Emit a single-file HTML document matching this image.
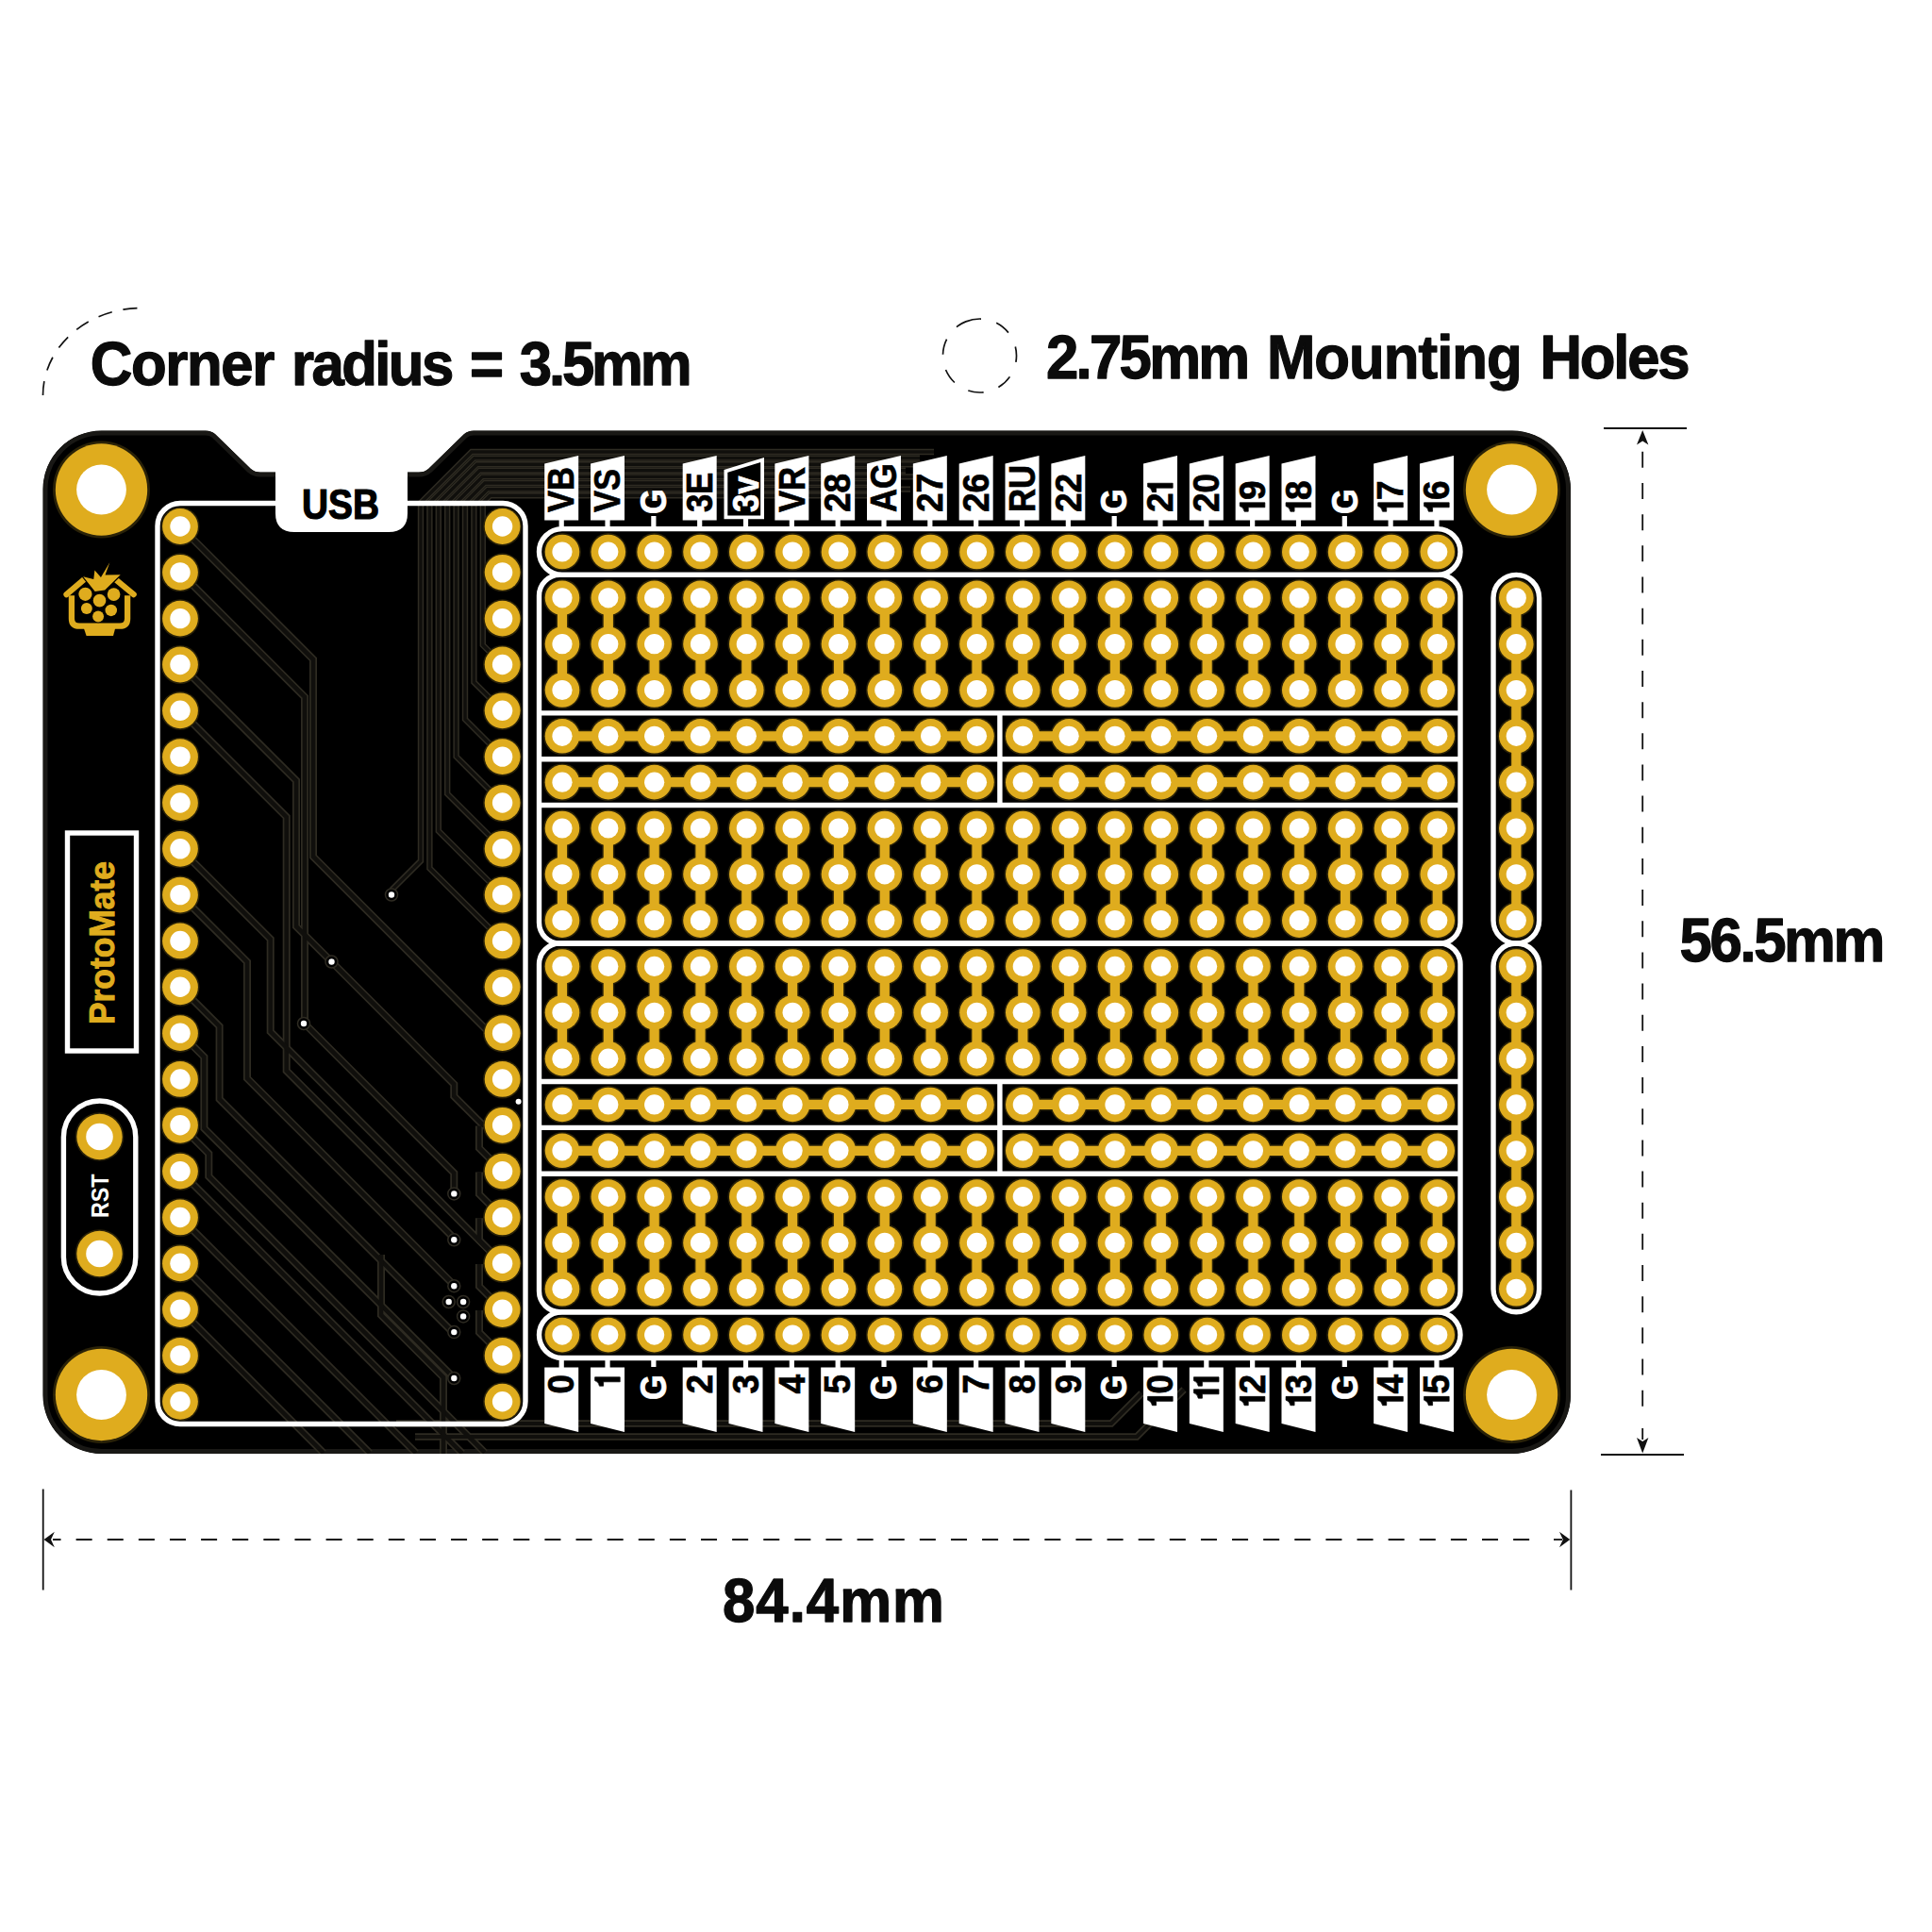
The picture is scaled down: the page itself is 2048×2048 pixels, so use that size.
<!DOCTYPE html><html><head><meta charset="utf-8"><style>html,body{margin:0;padding:0;background:#fff;width:2048px;height:2048px;overflow:hidden}svg{display:block}</style></head><body>
<svg width="2048" height="2048" viewBox="0 0 2048 2048">
<rect width="2048" height="2048" fill="#fff"/>
<g font-family='"Liberation Sans", sans-serif' font-weight="bold" fill="#0b0b0b" stroke="#0b0b0b" stroke-width="1.3" stroke-linejoin="round">
<text transform="translate(95.8,407.5) scale(0.95,1)" font-size="65" textLength="205.8" lengthAdjust="spacing">Corner</text>
<text transform="translate(309.0,407.5) scale(0.95,1)" font-size="65" textLength="181.3" lengthAdjust="spacing">radius</text>
<text transform="translate(497.9,407.5) scale(0.95,1)" font-size="65" textLength="36.9" lengthAdjust="spacing">=</text>
<text transform="translate(550.7,407.5) scale(0.95,1)" font-size="65" textLength="192.7" lengthAdjust="spacing">3.5mm</text>
<text transform="translate(1108.9,400.5) scale(0.95,1)" font-size="65" textLength="227.7" lengthAdjust="spacing">2.75mm</text>
<text transform="translate(1342.9,400.5) scale(0.95,1)" font-size="65" textLength="285.2" lengthAdjust="spacing">Mounting</text>
<text transform="translate(1632.5,400.5) scale(0.95,1)" font-size="65" textLength="167.4" lengthAdjust="spacing">Holes</text>
<text transform="translate(1780.5,1019) scale(0.95,1)" font-size="65" textLength="229.5" lengthAdjust="spacing">56.5mm</text>
<text transform="translate(766,1719) scale(0.95,1)" font-size="65" textLength="247.4" lengthAdjust="spacing">84.4mm</text>
</g>
<path d="M45.5,419 A104.5,92.5 0 0 1 150,326.5" fill="none" stroke="#111" stroke-width="1.7" stroke-dasharray="15 12"/>
<circle cx="1038.5" cy="377" r="39" fill="none" stroke="#111" stroke-width="1.7" stroke-dasharray="16.5 16.8" transform="rotate(-112 1038.5 377)"/>
<g stroke="#111" stroke-width="1.8" fill="none">
<line x1="1700" y1="454" x2="1788" y2="454"/>
<line x1="1697" y1="1542" x2="1785" y2="1542"/>
<line x1="1741.2" y1="470" x2="1741.2" y2="1500" stroke-dasharray="17 16.16" stroke-dashoffset="24.3"/>
<line x1="1741.2" y1="1514" x2="1741.2" y2="1526"/>
<line x1="45.7" y1="1578.5" x2="45.7" y2="1685.5"/>
<line x1="1665.4" y1="1579.5" x2="1665.4" y2="1685.5"/>
<line x1="56" y1="1632" x2="1630" y2="1632" stroke-dasharray="17 16.12" stroke-dashoffset="8.5"/>
<line x1="1647" y1="1632" x2="1656" y2="1632"/>
</g>
<g fill="#111">
<path d="M1741.2,456 L1747.4,471.5 L1741.2,467.5 L1735,471.5 Z"/>
<path d="M1741.2,1540.5 L1747.4,1524 L1741.2,1528 L1735,1524 Z"/>
<path d="M46.5,1632 L57.8,1623.7 L54,1632 L57.8,1640.3 Z"/>
<path d="M1664.3,1632 L1653,1623.7 L1656.8,1632 L1653,1640.3 Z"/>
</g>
<clipPath id="bc"><path d="M107.5,456.5 L218,456.5 Q224,456.5 228,460 L266,497 Q270,500.5 276,500.5 L444,500.5 Q450,500.5 454,497 L492,460 Q496,456.5 502,456.5 L1603,456.5 A62,62 0 0 1 1665,518.5 L1665,1479 A62,62 0 0 1 1603,1541 L107.5,1541 A62,62 0 0 1 45.5,1479 L45.5,518.5 A62,62 0 0 1 107.5,456.5 Z"/></clipPath>
<path d="M107.5,456.5 L218,456.5 Q224,456.5 228,460 L266,497 Q270,500.5 276,500.5 L444,500.5 Q450,500.5 454,497 L492,460 Q496,456.5 502,456.5 L1603,456.5 A62,62 0 0 1 1665,518.5 L1665,1479 A62,62 0 0 1 1603,1541 L107.5,1541 A62,62 0 0 1 45.5,1479 L45.5,518.5 A62,62 0 0 1 107.5,456.5 Z" fill="#000" stroke="#191815" stroke-width="10" clip-path="url(#bc)"/>
<g clip-path="url(#bc)" fill="none" stroke-linejoin="miter">
<path d="M990,479.0 L500.0,479.0 L446.0,533 L446.0,912.6 L415,943.6" stroke="#2e2b22" stroke-width="6.4"/>
<path d="M975,485.6 L502.8,485.6 L455.4,533 L455.4,920.3 L532.6,997.5" stroke="#2e2b22" stroke-width="6.4"/>
<path d="M985,492.2 L505.6,492.2 L464.8,533 L464.8,880.8 L532.6,948.6" stroke="#2e2b22" stroke-width="6.4"/>
<path d="M960,498.8 L508.4,498.8 L474.2,533 L474.2,841.4 L532.6,899.8" stroke="#2e2b22" stroke-width="6.4"/>
<path d="M970,505.4 L511.2,505.4 L483.6,533 L483.6,802.0 L532.6,851.0" stroke="#2e2b22" stroke-width="6.4"/>
<path d="M950,512.0 L514.0,512.0 L493.0,533 L493.0,762.5 L532.6,802.1" stroke="#2e2b22" stroke-width="6.4"/>
<path d="M965,518.6 L516.8,518.6 L502.4,533 L502.4,723.1 L532.6,753.3" stroke="#2e2b22" stroke-width="6.4"/>
<path d="M940,525.2 L519.6,525.2 L511.8,533 L511.8,683.7 L532.6,704.5" stroke="#2e2b22" stroke-width="6.4"/>
<path d="M191,558 L332,699 L332,908 L519,1095 L532.6,1095.1" stroke="#2e2b22" stroke-width="8"/>
<path d="M191,606.8 L323,738.8 L323,1084.5" stroke="#2e2b22" stroke-width="8"/>
<path d="M322.4,1084.5 L481.3,1243.4 L481.3,1265.4" stroke="#2e2b22" stroke-width="8"/>
<path d="M191,704.5 L314,827.5 L314,982 L351.5,1019.5" stroke="#2e2b22" stroke-width="8"/>
<path d="M351.5,1019.5 L481.3,1149.3 L481.3,1162 L512,1192.7 L532.6,1192.7" stroke="#2e2b22" stroke-width="8"/>
<path d="M191,753.3 L303.7,866 L303.7,1135 L481.3,1312.6 L481.3,1314.3" stroke="#2e2b22" stroke-width="8"/>
<path d="M191,899.8 L286.7,995.5 L286.7,1093.6 L532.6,1339.5" stroke="#2e2b22" stroke-width="8"/>
<path d="M191,948.6 L262,1019.6 L262,1143 L481.3,1362.3 L481.3,1363.2" stroke="#2e2b22" stroke-width="8"/>
<path d="M191,1046.3 L232.6,1087.9 L232.6,1165 L481.3,1413.7" stroke="#2e2b22" stroke-width="8"/>
<path d="M191,1095.1 L216.4,1120.5 L216.4,1196 L481.3,1460.9" stroke="#2e2b22" stroke-width="8"/>
<path d="M191,1192.7 L221.3,1223 L221.3,1247 L514,1540" stroke="#2e2b22" stroke-width="8"/>
<path d="M191,1241.6 L490,1540.6" stroke="#2e2b22" stroke-width="8"/>
<path d="M191,1290.4 L441,1540.4" stroke="#2e2b22" stroke-width="8"/>
<path d="M191,1339.3 L392,1540.3" stroke="#2e2b22" stroke-width="8"/>
<path d="M191,1388.1 L343,1540.3" stroke="#2e2b22" stroke-width="8"/>
<path d="M404,1330 L404,1394 L470,1460 L470,1541" stroke="#2e2b22" stroke-width="8"/>
<path d="M532.6,1241.6 L508,1217.0 L508,1193.6" stroke="#2e2b22" stroke-width="8"/>
<path d="M532.6,1290.4 L508,1265.8 L508,1242.4" stroke="#2e2b22" stroke-width="8"/>
<path d="M532.6,1339.3 L508,1314.7 L508,1291.3" stroke="#2e2b22" stroke-width="8"/>
<path d="M532.6,1388.1 L508,1363.5 L508,1340.1" stroke="#2e2b22" stroke-width="8"/>
<path d="M532.6,1436.9 L508,1412.3 L508,1388.9" stroke="#2e2b22" stroke-width="8"/>
<path d="M420,1509 L1178,1509 L1210,1477" stroke="#2e2b22" stroke-width="7.5"/>
<path d="M440,1523 L1205,1523 L1255,1473" stroke="#2e2b22" stroke-width="7.5"/>
<path d="M990,479.0 L500.0,479.0 L446.0,533 L446.0,912.6 L415,943.6" stroke="#100f0c" stroke-width="3.4"/>
<path d="M975,485.6 L502.8,485.6 L455.4,533 L455.4,920.3 L532.6,997.5" stroke="#100f0c" stroke-width="3.4"/>
<path d="M985,492.2 L505.6,492.2 L464.8,533 L464.8,880.8 L532.6,948.6" stroke="#100f0c" stroke-width="3.4"/>
<path d="M960,498.8 L508.4,498.8 L474.2,533 L474.2,841.4 L532.6,899.8" stroke="#100f0c" stroke-width="3.4"/>
<path d="M970,505.4 L511.2,505.4 L483.6,533 L483.6,802.0 L532.6,851.0" stroke="#100f0c" stroke-width="3.4"/>
<path d="M950,512.0 L514.0,512.0 L493.0,533 L493.0,762.5 L532.6,802.1" stroke="#100f0c" stroke-width="3.4"/>
<path d="M965,518.6 L516.8,518.6 L502.4,533 L502.4,723.1 L532.6,753.3" stroke="#100f0c" stroke-width="3.4"/>
<path d="M940,525.2 L519.6,525.2 L511.8,533 L511.8,683.7 L532.6,704.5" stroke="#100f0c" stroke-width="3.4"/>
<path d="M191,558 L332,699 L332,908 L519,1095 L532.6,1095.1" stroke="#100f0c" stroke-width="4.6"/>
<path d="M191,606.8 L323,738.8 L323,1084.5" stroke="#100f0c" stroke-width="4.6"/>
<path d="M322.4,1084.5 L481.3,1243.4 L481.3,1265.4" stroke="#100f0c" stroke-width="4.6"/>
<path d="M191,704.5 L314,827.5 L314,982 L351.5,1019.5" stroke="#100f0c" stroke-width="4.6"/>
<path d="M351.5,1019.5 L481.3,1149.3 L481.3,1162 L512,1192.7 L532.6,1192.7" stroke="#100f0c" stroke-width="4.6"/>
<path d="M191,753.3 L303.7,866 L303.7,1135 L481.3,1312.6 L481.3,1314.3" stroke="#100f0c" stroke-width="4.6"/>
<path d="M191,899.8 L286.7,995.5 L286.7,1093.6 L532.6,1339.5" stroke="#100f0c" stroke-width="4.6"/>
<path d="M191,948.6 L262,1019.6 L262,1143 L481.3,1362.3 L481.3,1363.2" stroke="#100f0c" stroke-width="4.6"/>
<path d="M191,1046.3 L232.6,1087.9 L232.6,1165 L481.3,1413.7" stroke="#100f0c" stroke-width="4.6"/>
<path d="M191,1095.1 L216.4,1120.5 L216.4,1196 L481.3,1460.9" stroke="#100f0c" stroke-width="4.6"/>
<path d="M191,1192.7 L221.3,1223 L221.3,1247 L514,1540" stroke="#100f0c" stroke-width="4.6"/>
<path d="M191,1241.6 L490,1540.6" stroke="#100f0c" stroke-width="4.6"/>
<path d="M191,1290.4 L441,1540.4" stroke="#100f0c" stroke-width="4.6"/>
<path d="M191,1339.3 L392,1540.3" stroke="#100f0c" stroke-width="4.6"/>
<path d="M191,1388.1 L343,1540.3" stroke="#100f0c" stroke-width="4.6"/>
<path d="M404,1330 L404,1394 L470,1460 L470,1541" stroke="#100f0c" stroke-width="4.6"/>
<path d="M532.6,1241.6 L508,1217.0 L508,1193.6" stroke="#100f0c" stroke-width="4.6"/>
<path d="M532.6,1290.4 L508,1265.8 L508,1242.4" stroke="#100f0c" stroke-width="4.6"/>
<path d="M532.6,1339.3 L508,1314.7 L508,1291.3" stroke="#100f0c" stroke-width="4.6"/>
<path d="M532.6,1388.1 L508,1363.5 L508,1340.1" stroke="#100f0c" stroke-width="4.6"/>
<path d="M532.6,1436.9 L508,1412.3 L508,1388.9" stroke="#100f0c" stroke-width="4.6"/>
<path d="M420,1509 L1178,1509 L1210,1477" stroke="#100f0c" stroke-width="4"/>
<path d="M440,1523 L1205,1523 L1255,1473" stroke="#100f0c" stroke-width="4"/>
</g>
<circle cx="549.6" cy="1167.8" r="3" fill="#fff"/>
<circle cx="415" cy="948.5" r="6.5" fill="#000" stroke="#2e2b22" stroke-width="1.5"/><circle cx="415" cy="948.5" r="3.2" fill="#fff"/>
<circle cx="351.5" cy="1019.5" r="6.5" fill="#000" stroke="#2e2b22" stroke-width="1.5"/><circle cx="351.5" cy="1019.5" r="3.2" fill="#fff"/>
<circle cx="322" cy="1085" r="6.5" fill="#000" stroke="#2e2b22" stroke-width="1.5"/><circle cx="322" cy="1085" r="3.2" fill="#fff"/>
<circle cx="481.3" cy="1265.4" r="6.5" fill="#000" stroke="#2e2b22" stroke-width="1.5"/><circle cx="481.3" cy="1265.4" r="3.2" fill="#fff"/>
<circle cx="481.3" cy="1314.3" r="6.5" fill="#000" stroke="#2e2b22" stroke-width="1.5"/><circle cx="481.3" cy="1314.3" r="3.2" fill="#fff"/>
<circle cx="481.3" cy="1363.2" r="6.5" fill="#000" stroke="#2e2b22" stroke-width="1.5"/><circle cx="481.3" cy="1363.2" r="3.2" fill="#fff"/>
<circle cx="475.7" cy="1380" r="6.5" fill="#000" stroke="#2e2b22" stroke-width="1.5"/><circle cx="475.7" cy="1380" r="3.2" fill="#fff"/>
<circle cx="491.1" cy="1380" r="6.5" fill="#000" stroke="#2e2b22" stroke-width="1.5"/><circle cx="491.1" cy="1380" r="3.2" fill="#fff"/>
<circle cx="491.1" cy="1395.4" r="6.5" fill="#000" stroke="#2e2b22" stroke-width="1.5"/><circle cx="491.1" cy="1395.4" r="3.2" fill="#fff"/>
<circle cx="481.3" cy="1412.1" r="6.5" fill="#000" stroke="#2e2b22" stroke-width="1.5"/><circle cx="481.3" cy="1412.1" r="3.2" fill="#fff"/>
<circle cx="481.3" cy="1461" r="6.5" fill="#000" stroke="#2e2b22" stroke-width="1.5"/><circle cx="481.3" cy="1461" r="3.2" fill="#fff"/>
<g fill="none" stroke="#fff" stroke-width="5.4">
<rect x="571.5" y="560.585" width="976.5" height="48.83" rx="24.4"/>
<rect x="571.5" y="609.4150000000001" width="976.5" height="390.64" rx="22"/>
<rect x="571.5" y="1000.0550000000001" width="976.5" height="390.6400000000001" rx="22"/>
<rect x="571.5" y="1390.6950000000002" width="976.5" height="48.83" rx="24.4"/>
<line x1="571.5" y1="755.905" x2="1548" y2="755.905"/>
<line x1="571.5" y1="804.735" x2="1548" y2="804.735"/>
<line x1="571.5" y1="853.565" x2="1548" y2="853.565"/>
<line x1="571.5" y1="1146.545" x2="1548" y2="1146.545"/>
<line x1="571.5" y1="1195.375" x2="1548" y2="1195.375"/>
<line x1="571.5" y1="1244.205" x2="1548" y2="1244.205"/>
<line x1="1059.885" y1="755.905" x2="1059.885" y2="853.565"/>
<line x1="1059.885" y1="1146.545" x2="1059.885" y2="1244.205"/>
<rect x="1583" y="609.4150000000001" width="48.6" height="390.64" rx="24.3"/>
<rect x="1583" y="1000.0550000000001" width="48.6" height="390.6400000000001" rx="24.3"/>
<rect x="167" y="533.5" width="390" height="976" rx="24"/>
<rect x="71.5" y="883" width="73" height="231" stroke-width="5.4"/>
<rect x="67.4" y="1167" width="76.4" height="204" rx="38.2"/>
</g>
<path d="M292,495 L432,495 L432,544 Q432,564 412,564 L312,564 Q292,564 292,544 Z" fill="#fff"/>
<text x="320" y="549.7" font-family='"Liberation Sans", sans-serif' font-weight="bold" font-size="44" textLength="82" lengthAdjust="spacingAndGlyphs" fill="#000" stroke="#000" stroke-width="1.2">USB</text>
<g>
<circle cx="596.00" cy="585.00" r="19.90" fill="#2a2208"/>
<circle cx="596.00" cy="633.83" r="19.90" fill="#2a2208"/>
<circle cx="596.00" cy="682.66" r="19.90" fill="#2a2208"/>
<circle cx="596.00" cy="731.49" r="19.90" fill="#2a2208"/>
<circle cx="596.00" cy="780.32" r="19.90" fill="#2a2208"/>
<circle cx="596.00" cy="829.15" r="19.90" fill="#2a2208"/>
<circle cx="596.00" cy="877.98" r="19.90" fill="#2a2208"/>
<circle cx="596.00" cy="926.81" r="19.90" fill="#2a2208"/>
<circle cx="596.00" cy="975.64" r="19.90" fill="#2a2208"/>
<circle cx="596.00" cy="1024.47" r="19.90" fill="#2a2208"/>
<circle cx="596.00" cy="1073.30" r="19.90" fill="#2a2208"/>
<circle cx="596.00" cy="1122.13" r="19.90" fill="#2a2208"/>
<circle cx="596.00" cy="1170.96" r="19.90" fill="#2a2208"/>
<circle cx="596.00" cy="1219.79" r="19.90" fill="#2a2208"/>
<circle cx="596.00" cy="1268.62" r="19.90" fill="#2a2208"/>
<circle cx="596.00" cy="1317.45" r="19.90" fill="#2a2208"/>
<circle cx="596.00" cy="1366.28" r="19.90" fill="#2a2208"/>
<circle cx="596.00" cy="1415.11" r="19.90" fill="#2a2208"/>
<circle cx="644.83" cy="585.00" r="19.90" fill="#2a2208"/>
<circle cx="644.83" cy="633.83" r="19.90" fill="#2a2208"/>
<circle cx="644.83" cy="682.66" r="19.90" fill="#2a2208"/>
<circle cx="644.83" cy="731.49" r="19.90" fill="#2a2208"/>
<circle cx="644.83" cy="780.32" r="19.90" fill="#2a2208"/>
<circle cx="644.83" cy="829.15" r="19.90" fill="#2a2208"/>
<circle cx="644.83" cy="877.98" r="19.90" fill="#2a2208"/>
<circle cx="644.83" cy="926.81" r="19.90" fill="#2a2208"/>
<circle cx="644.83" cy="975.64" r="19.90" fill="#2a2208"/>
<circle cx="644.83" cy="1024.47" r="19.90" fill="#2a2208"/>
<circle cx="644.83" cy="1073.30" r="19.90" fill="#2a2208"/>
<circle cx="644.83" cy="1122.13" r="19.90" fill="#2a2208"/>
<circle cx="644.83" cy="1170.96" r="19.90" fill="#2a2208"/>
<circle cx="644.83" cy="1219.79" r="19.90" fill="#2a2208"/>
<circle cx="644.83" cy="1268.62" r="19.90" fill="#2a2208"/>
<circle cx="644.83" cy="1317.45" r="19.90" fill="#2a2208"/>
<circle cx="644.83" cy="1366.28" r="19.90" fill="#2a2208"/>
<circle cx="644.83" cy="1415.11" r="19.90" fill="#2a2208"/>
<circle cx="693.66" cy="585.00" r="19.90" fill="#2a2208"/>
<circle cx="693.66" cy="633.83" r="19.90" fill="#2a2208"/>
<circle cx="693.66" cy="682.66" r="19.90" fill="#2a2208"/>
<circle cx="693.66" cy="731.49" r="19.90" fill="#2a2208"/>
<circle cx="693.66" cy="780.32" r="19.90" fill="#2a2208"/>
<circle cx="693.66" cy="829.15" r="19.90" fill="#2a2208"/>
<circle cx="693.66" cy="877.98" r="19.90" fill="#2a2208"/>
<circle cx="693.66" cy="926.81" r="19.90" fill="#2a2208"/>
<circle cx="693.66" cy="975.64" r="19.90" fill="#2a2208"/>
<circle cx="693.66" cy="1024.47" r="19.90" fill="#2a2208"/>
<circle cx="693.66" cy="1073.30" r="19.90" fill="#2a2208"/>
<circle cx="693.66" cy="1122.13" r="19.90" fill="#2a2208"/>
<circle cx="693.66" cy="1170.96" r="19.90" fill="#2a2208"/>
<circle cx="693.66" cy="1219.79" r="19.90" fill="#2a2208"/>
<circle cx="693.66" cy="1268.62" r="19.90" fill="#2a2208"/>
<circle cx="693.66" cy="1317.45" r="19.90" fill="#2a2208"/>
<circle cx="693.66" cy="1366.28" r="19.90" fill="#2a2208"/>
<circle cx="693.66" cy="1415.11" r="19.90" fill="#2a2208"/>
<circle cx="742.49" cy="585.00" r="19.90" fill="#2a2208"/>
<circle cx="742.49" cy="633.83" r="19.90" fill="#2a2208"/>
<circle cx="742.49" cy="682.66" r="19.90" fill="#2a2208"/>
<circle cx="742.49" cy="731.49" r="19.90" fill="#2a2208"/>
<circle cx="742.49" cy="780.32" r="19.90" fill="#2a2208"/>
<circle cx="742.49" cy="829.15" r="19.90" fill="#2a2208"/>
<circle cx="742.49" cy="877.98" r="19.90" fill="#2a2208"/>
<circle cx="742.49" cy="926.81" r="19.90" fill="#2a2208"/>
<circle cx="742.49" cy="975.64" r="19.90" fill="#2a2208"/>
<circle cx="742.49" cy="1024.47" r="19.90" fill="#2a2208"/>
<circle cx="742.49" cy="1073.30" r="19.90" fill="#2a2208"/>
<circle cx="742.49" cy="1122.13" r="19.90" fill="#2a2208"/>
<circle cx="742.49" cy="1170.96" r="19.90" fill="#2a2208"/>
<circle cx="742.49" cy="1219.79" r="19.90" fill="#2a2208"/>
<circle cx="742.49" cy="1268.62" r="19.90" fill="#2a2208"/>
<circle cx="742.49" cy="1317.45" r="19.90" fill="#2a2208"/>
<circle cx="742.49" cy="1366.28" r="19.90" fill="#2a2208"/>
<circle cx="742.49" cy="1415.11" r="19.90" fill="#2a2208"/>
<circle cx="791.32" cy="585.00" r="19.90" fill="#2a2208"/>
<circle cx="791.32" cy="633.83" r="19.90" fill="#2a2208"/>
<circle cx="791.32" cy="682.66" r="19.90" fill="#2a2208"/>
<circle cx="791.32" cy="731.49" r="19.90" fill="#2a2208"/>
<circle cx="791.32" cy="780.32" r="19.90" fill="#2a2208"/>
<circle cx="791.32" cy="829.15" r="19.90" fill="#2a2208"/>
<circle cx="791.32" cy="877.98" r="19.90" fill="#2a2208"/>
<circle cx="791.32" cy="926.81" r="19.90" fill="#2a2208"/>
<circle cx="791.32" cy="975.64" r="19.90" fill="#2a2208"/>
<circle cx="791.32" cy="1024.47" r="19.90" fill="#2a2208"/>
<circle cx="791.32" cy="1073.30" r="19.90" fill="#2a2208"/>
<circle cx="791.32" cy="1122.13" r="19.90" fill="#2a2208"/>
<circle cx="791.32" cy="1170.96" r="19.90" fill="#2a2208"/>
<circle cx="791.32" cy="1219.79" r="19.90" fill="#2a2208"/>
<circle cx="791.32" cy="1268.62" r="19.90" fill="#2a2208"/>
<circle cx="791.32" cy="1317.45" r="19.90" fill="#2a2208"/>
<circle cx="791.32" cy="1366.28" r="19.90" fill="#2a2208"/>
<circle cx="791.32" cy="1415.11" r="19.90" fill="#2a2208"/>
<circle cx="840.15" cy="585.00" r="19.90" fill="#2a2208"/>
<circle cx="840.15" cy="633.83" r="19.90" fill="#2a2208"/>
<circle cx="840.15" cy="682.66" r="19.90" fill="#2a2208"/>
<circle cx="840.15" cy="731.49" r="19.90" fill="#2a2208"/>
<circle cx="840.15" cy="780.32" r="19.90" fill="#2a2208"/>
<circle cx="840.15" cy="829.15" r="19.90" fill="#2a2208"/>
<circle cx="840.15" cy="877.98" r="19.90" fill="#2a2208"/>
<circle cx="840.15" cy="926.81" r="19.90" fill="#2a2208"/>
<circle cx="840.15" cy="975.64" r="19.90" fill="#2a2208"/>
<circle cx="840.15" cy="1024.47" r="19.90" fill="#2a2208"/>
<circle cx="840.15" cy="1073.30" r="19.90" fill="#2a2208"/>
<circle cx="840.15" cy="1122.13" r="19.90" fill="#2a2208"/>
<circle cx="840.15" cy="1170.96" r="19.90" fill="#2a2208"/>
<circle cx="840.15" cy="1219.79" r="19.90" fill="#2a2208"/>
<circle cx="840.15" cy="1268.62" r="19.90" fill="#2a2208"/>
<circle cx="840.15" cy="1317.45" r="19.90" fill="#2a2208"/>
<circle cx="840.15" cy="1366.28" r="19.90" fill="#2a2208"/>
<circle cx="840.15" cy="1415.11" r="19.90" fill="#2a2208"/>
<circle cx="888.98" cy="585.00" r="19.90" fill="#2a2208"/>
<circle cx="888.98" cy="633.83" r="19.90" fill="#2a2208"/>
<circle cx="888.98" cy="682.66" r="19.90" fill="#2a2208"/>
<circle cx="888.98" cy="731.49" r="19.90" fill="#2a2208"/>
<circle cx="888.98" cy="780.32" r="19.90" fill="#2a2208"/>
<circle cx="888.98" cy="829.15" r="19.90" fill="#2a2208"/>
<circle cx="888.98" cy="877.98" r="19.90" fill="#2a2208"/>
<circle cx="888.98" cy="926.81" r="19.90" fill="#2a2208"/>
<circle cx="888.98" cy="975.64" r="19.90" fill="#2a2208"/>
<circle cx="888.98" cy="1024.47" r="19.90" fill="#2a2208"/>
<circle cx="888.98" cy="1073.30" r="19.90" fill="#2a2208"/>
<circle cx="888.98" cy="1122.13" r="19.90" fill="#2a2208"/>
<circle cx="888.98" cy="1170.96" r="19.90" fill="#2a2208"/>
<circle cx="888.98" cy="1219.79" r="19.90" fill="#2a2208"/>
<circle cx="888.98" cy="1268.62" r="19.90" fill="#2a2208"/>
<circle cx="888.98" cy="1317.45" r="19.90" fill="#2a2208"/>
<circle cx="888.98" cy="1366.28" r="19.90" fill="#2a2208"/>
<circle cx="888.98" cy="1415.11" r="19.90" fill="#2a2208"/>
<circle cx="937.81" cy="585.00" r="19.90" fill="#2a2208"/>
<circle cx="937.81" cy="633.83" r="19.90" fill="#2a2208"/>
<circle cx="937.81" cy="682.66" r="19.90" fill="#2a2208"/>
<circle cx="937.81" cy="731.49" r="19.90" fill="#2a2208"/>
<circle cx="937.81" cy="780.32" r="19.90" fill="#2a2208"/>
<circle cx="937.81" cy="829.15" r="19.90" fill="#2a2208"/>
<circle cx="937.81" cy="877.98" r="19.90" fill="#2a2208"/>
<circle cx="937.81" cy="926.81" r="19.90" fill="#2a2208"/>
<circle cx="937.81" cy="975.64" r="19.90" fill="#2a2208"/>
<circle cx="937.81" cy="1024.47" r="19.90" fill="#2a2208"/>
<circle cx="937.81" cy="1073.30" r="19.90" fill="#2a2208"/>
<circle cx="937.81" cy="1122.13" r="19.90" fill="#2a2208"/>
<circle cx="937.81" cy="1170.96" r="19.90" fill="#2a2208"/>
<circle cx="937.81" cy="1219.79" r="19.90" fill="#2a2208"/>
<circle cx="937.81" cy="1268.62" r="19.90" fill="#2a2208"/>
<circle cx="937.81" cy="1317.45" r="19.90" fill="#2a2208"/>
<circle cx="937.81" cy="1366.28" r="19.90" fill="#2a2208"/>
<circle cx="937.81" cy="1415.11" r="19.90" fill="#2a2208"/>
<circle cx="986.64" cy="585.00" r="19.90" fill="#2a2208"/>
<circle cx="986.64" cy="633.83" r="19.90" fill="#2a2208"/>
<circle cx="986.64" cy="682.66" r="19.90" fill="#2a2208"/>
<circle cx="986.64" cy="731.49" r="19.90" fill="#2a2208"/>
<circle cx="986.64" cy="780.32" r="19.90" fill="#2a2208"/>
<circle cx="986.64" cy="829.15" r="19.90" fill="#2a2208"/>
<circle cx="986.64" cy="877.98" r="19.90" fill="#2a2208"/>
<circle cx="986.64" cy="926.81" r="19.90" fill="#2a2208"/>
<circle cx="986.64" cy="975.64" r="19.90" fill="#2a2208"/>
<circle cx="986.64" cy="1024.47" r="19.90" fill="#2a2208"/>
<circle cx="986.64" cy="1073.30" r="19.90" fill="#2a2208"/>
<circle cx="986.64" cy="1122.13" r="19.90" fill="#2a2208"/>
<circle cx="986.64" cy="1170.96" r="19.90" fill="#2a2208"/>
<circle cx="986.64" cy="1219.79" r="19.90" fill="#2a2208"/>
<circle cx="986.64" cy="1268.62" r="19.90" fill="#2a2208"/>
<circle cx="986.64" cy="1317.45" r="19.90" fill="#2a2208"/>
<circle cx="986.64" cy="1366.28" r="19.90" fill="#2a2208"/>
<circle cx="986.64" cy="1415.11" r="19.90" fill="#2a2208"/>
<circle cx="1035.47" cy="585.00" r="19.90" fill="#2a2208"/>
<circle cx="1035.47" cy="633.83" r="19.90" fill="#2a2208"/>
<circle cx="1035.47" cy="682.66" r="19.90" fill="#2a2208"/>
<circle cx="1035.47" cy="731.49" r="19.90" fill="#2a2208"/>
<circle cx="1035.47" cy="780.32" r="19.90" fill="#2a2208"/>
<circle cx="1035.47" cy="829.15" r="19.90" fill="#2a2208"/>
<circle cx="1035.47" cy="877.98" r="19.90" fill="#2a2208"/>
<circle cx="1035.47" cy="926.81" r="19.90" fill="#2a2208"/>
<circle cx="1035.47" cy="975.64" r="19.90" fill="#2a2208"/>
<circle cx="1035.47" cy="1024.47" r="19.90" fill="#2a2208"/>
<circle cx="1035.47" cy="1073.30" r="19.90" fill="#2a2208"/>
<circle cx="1035.47" cy="1122.13" r="19.90" fill="#2a2208"/>
<circle cx="1035.47" cy="1170.96" r="19.90" fill="#2a2208"/>
<circle cx="1035.47" cy="1219.79" r="19.90" fill="#2a2208"/>
<circle cx="1035.47" cy="1268.62" r="19.90" fill="#2a2208"/>
<circle cx="1035.47" cy="1317.45" r="19.90" fill="#2a2208"/>
<circle cx="1035.47" cy="1366.28" r="19.90" fill="#2a2208"/>
<circle cx="1035.47" cy="1415.11" r="19.90" fill="#2a2208"/>
<circle cx="1084.30" cy="585.00" r="19.90" fill="#2a2208"/>
<circle cx="1084.30" cy="633.83" r="19.90" fill="#2a2208"/>
<circle cx="1084.30" cy="682.66" r="19.90" fill="#2a2208"/>
<circle cx="1084.30" cy="731.49" r="19.90" fill="#2a2208"/>
<circle cx="1084.30" cy="780.32" r="19.90" fill="#2a2208"/>
<circle cx="1084.30" cy="829.15" r="19.90" fill="#2a2208"/>
<circle cx="1084.30" cy="877.98" r="19.90" fill="#2a2208"/>
<circle cx="1084.30" cy="926.81" r="19.90" fill="#2a2208"/>
<circle cx="1084.30" cy="975.64" r="19.90" fill="#2a2208"/>
<circle cx="1084.30" cy="1024.47" r="19.90" fill="#2a2208"/>
<circle cx="1084.30" cy="1073.30" r="19.90" fill="#2a2208"/>
<circle cx="1084.30" cy="1122.13" r="19.90" fill="#2a2208"/>
<circle cx="1084.30" cy="1170.96" r="19.90" fill="#2a2208"/>
<circle cx="1084.30" cy="1219.79" r="19.90" fill="#2a2208"/>
<circle cx="1084.30" cy="1268.62" r="19.90" fill="#2a2208"/>
<circle cx="1084.30" cy="1317.45" r="19.90" fill="#2a2208"/>
<circle cx="1084.30" cy="1366.28" r="19.90" fill="#2a2208"/>
<circle cx="1084.30" cy="1415.11" r="19.90" fill="#2a2208"/>
<circle cx="1133.13" cy="585.00" r="19.90" fill="#2a2208"/>
<circle cx="1133.13" cy="633.83" r="19.90" fill="#2a2208"/>
<circle cx="1133.13" cy="682.66" r="19.90" fill="#2a2208"/>
<circle cx="1133.13" cy="731.49" r="19.90" fill="#2a2208"/>
<circle cx="1133.13" cy="780.32" r="19.90" fill="#2a2208"/>
<circle cx="1133.13" cy="829.15" r="19.90" fill="#2a2208"/>
<circle cx="1133.13" cy="877.98" r="19.90" fill="#2a2208"/>
<circle cx="1133.13" cy="926.81" r="19.90" fill="#2a2208"/>
<circle cx="1133.13" cy="975.64" r="19.90" fill="#2a2208"/>
<circle cx="1133.13" cy="1024.47" r="19.90" fill="#2a2208"/>
<circle cx="1133.13" cy="1073.30" r="19.90" fill="#2a2208"/>
<circle cx="1133.13" cy="1122.13" r="19.90" fill="#2a2208"/>
<circle cx="1133.13" cy="1170.96" r="19.90" fill="#2a2208"/>
<circle cx="1133.13" cy="1219.79" r="19.90" fill="#2a2208"/>
<circle cx="1133.13" cy="1268.62" r="19.90" fill="#2a2208"/>
<circle cx="1133.13" cy="1317.45" r="19.90" fill="#2a2208"/>
<circle cx="1133.13" cy="1366.28" r="19.90" fill="#2a2208"/>
<circle cx="1133.13" cy="1415.11" r="19.90" fill="#2a2208"/>
<circle cx="1181.96" cy="585.00" r="19.90" fill="#2a2208"/>
<circle cx="1181.96" cy="633.83" r="19.90" fill="#2a2208"/>
<circle cx="1181.96" cy="682.66" r="19.90" fill="#2a2208"/>
<circle cx="1181.96" cy="731.49" r="19.90" fill="#2a2208"/>
<circle cx="1181.96" cy="780.32" r="19.90" fill="#2a2208"/>
<circle cx="1181.96" cy="829.15" r="19.90" fill="#2a2208"/>
<circle cx="1181.96" cy="877.98" r="19.90" fill="#2a2208"/>
<circle cx="1181.96" cy="926.81" r="19.90" fill="#2a2208"/>
<circle cx="1181.96" cy="975.64" r="19.90" fill="#2a2208"/>
<circle cx="1181.96" cy="1024.47" r="19.90" fill="#2a2208"/>
<circle cx="1181.96" cy="1073.30" r="19.90" fill="#2a2208"/>
<circle cx="1181.96" cy="1122.13" r="19.90" fill="#2a2208"/>
<circle cx="1181.96" cy="1170.96" r="19.90" fill="#2a2208"/>
<circle cx="1181.96" cy="1219.79" r="19.90" fill="#2a2208"/>
<circle cx="1181.96" cy="1268.62" r="19.90" fill="#2a2208"/>
<circle cx="1181.96" cy="1317.45" r="19.90" fill="#2a2208"/>
<circle cx="1181.96" cy="1366.28" r="19.90" fill="#2a2208"/>
<circle cx="1181.96" cy="1415.11" r="19.90" fill="#2a2208"/>
<circle cx="1230.79" cy="585.00" r="19.90" fill="#2a2208"/>
<circle cx="1230.79" cy="633.83" r="19.90" fill="#2a2208"/>
<circle cx="1230.79" cy="682.66" r="19.90" fill="#2a2208"/>
<circle cx="1230.79" cy="731.49" r="19.90" fill="#2a2208"/>
<circle cx="1230.79" cy="780.32" r="19.90" fill="#2a2208"/>
<circle cx="1230.79" cy="829.15" r="19.90" fill="#2a2208"/>
<circle cx="1230.79" cy="877.98" r="19.90" fill="#2a2208"/>
<circle cx="1230.79" cy="926.81" r="19.90" fill="#2a2208"/>
<circle cx="1230.79" cy="975.64" r="19.90" fill="#2a2208"/>
<circle cx="1230.79" cy="1024.47" r="19.90" fill="#2a2208"/>
<circle cx="1230.79" cy="1073.30" r="19.90" fill="#2a2208"/>
<circle cx="1230.79" cy="1122.13" r="19.90" fill="#2a2208"/>
<circle cx="1230.79" cy="1170.96" r="19.90" fill="#2a2208"/>
<circle cx="1230.79" cy="1219.79" r="19.90" fill="#2a2208"/>
<circle cx="1230.79" cy="1268.62" r="19.90" fill="#2a2208"/>
<circle cx="1230.79" cy="1317.45" r="19.90" fill="#2a2208"/>
<circle cx="1230.79" cy="1366.28" r="19.90" fill="#2a2208"/>
<circle cx="1230.79" cy="1415.11" r="19.90" fill="#2a2208"/>
<circle cx="1279.62" cy="585.00" r="19.90" fill="#2a2208"/>
<circle cx="1279.62" cy="633.83" r="19.90" fill="#2a2208"/>
<circle cx="1279.62" cy="682.66" r="19.90" fill="#2a2208"/>
<circle cx="1279.62" cy="731.49" r="19.90" fill="#2a2208"/>
<circle cx="1279.62" cy="780.32" r="19.90" fill="#2a2208"/>
<circle cx="1279.62" cy="829.15" r="19.90" fill="#2a2208"/>
<circle cx="1279.62" cy="877.98" r="19.90" fill="#2a2208"/>
<circle cx="1279.62" cy="926.81" r="19.90" fill="#2a2208"/>
<circle cx="1279.62" cy="975.64" r="19.90" fill="#2a2208"/>
<circle cx="1279.62" cy="1024.47" r="19.90" fill="#2a2208"/>
<circle cx="1279.62" cy="1073.30" r="19.90" fill="#2a2208"/>
<circle cx="1279.62" cy="1122.13" r="19.90" fill="#2a2208"/>
<circle cx="1279.62" cy="1170.96" r="19.90" fill="#2a2208"/>
<circle cx="1279.62" cy="1219.79" r="19.90" fill="#2a2208"/>
<circle cx="1279.62" cy="1268.62" r="19.90" fill="#2a2208"/>
<circle cx="1279.62" cy="1317.45" r="19.90" fill="#2a2208"/>
<circle cx="1279.62" cy="1366.28" r="19.90" fill="#2a2208"/>
<circle cx="1279.62" cy="1415.11" r="19.90" fill="#2a2208"/>
<circle cx="1328.45" cy="585.00" r="19.90" fill="#2a2208"/>
<circle cx="1328.45" cy="633.83" r="19.90" fill="#2a2208"/>
<circle cx="1328.45" cy="682.66" r="19.90" fill="#2a2208"/>
<circle cx="1328.45" cy="731.49" r="19.90" fill="#2a2208"/>
<circle cx="1328.45" cy="780.32" r="19.90" fill="#2a2208"/>
<circle cx="1328.45" cy="829.15" r="19.90" fill="#2a2208"/>
<circle cx="1328.45" cy="877.98" r="19.90" fill="#2a2208"/>
<circle cx="1328.45" cy="926.81" r="19.90" fill="#2a2208"/>
<circle cx="1328.45" cy="975.64" r="19.90" fill="#2a2208"/>
<circle cx="1328.45" cy="1024.47" r="19.90" fill="#2a2208"/>
<circle cx="1328.45" cy="1073.30" r="19.90" fill="#2a2208"/>
<circle cx="1328.45" cy="1122.13" r="19.90" fill="#2a2208"/>
<circle cx="1328.45" cy="1170.96" r="19.90" fill="#2a2208"/>
<circle cx="1328.45" cy="1219.79" r="19.90" fill="#2a2208"/>
<circle cx="1328.45" cy="1268.62" r="19.90" fill="#2a2208"/>
<circle cx="1328.45" cy="1317.45" r="19.90" fill="#2a2208"/>
<circle cx="1328.45" cy="1366.28" r="19.90" fill="#2a2208"/>
<circle cx="1328.45" cy="1415.11" r="19.90" fill="#2a2208"/>
<circle cx="1377.28" cy="585.00" r="19.90" fill="#2a2208"/>
<circle cx="1377.28" cy="633.83" r="19.90" fill="#2a2208"/>
<circle cx="1377.28" cy="682.66" r="19.90" fill="#2a2208"/>
<circle cx="1377.28" cy="731.49" r="19.90" fill="#2a2208"/>
<circle cx="1377.28" cy="780.32" r="19.90" fill="#2a2208"/>
<circle cx="1377.28" cy="829.15" r="19.90" fill="#2a2208"/>
<circle cx="1377.28" cy="877.98" r="19.90" fill="#2a2208"/>
<circle cx="1377.28" cy="926.81" r="19.90" fill="#2a2208"/>
<circle cx="1377.28" cy="975.64" r="19.90" fill="#2a2208"/>
<circle cx="1377.28" cy="1024.47" r="19.90" fill="#2a2208"/>
<circle cx="1377.28" cy="1073.30" r="19.90" fill="#2a2208"/>
<circle cx="1377.28" cy="1122.13" r="19.90" fill="#2a2208"/>
<circle cx="1377.28" cy="1170.96" r="19.90" fill="#2a2208"/>
<circle cx="1377.28" cy="1219.79" r="19.90" fill="#2a2208"/>
<circle cx="1377.28" cy="1268.62" r="19.90" fill="#2a2208"/>
<circle cx="1377.28" cy="1317.45" r="19.90" fill="#2a2208"/>
<circle cx="1377.28" cy="1366.28" r="19.90" fill="#2a2208"/>
<circle cx="1377.28" cy="1415.11" r="19.90" fill="#2a2208"/>
<circle cx="1426.11" cy="585.00" r="19.90" fill="#2a2208"/>
<circle cx="1426.11" cy="633.83" r="19.90" fill="#2a2208"/>
<circle cx="1426.11" cy="682.66" r="19.90" fill="#2a2208"/>
<circle cx="1426.11" cy="731.49" r="19.90" fill="#2a2208"/>
<circle cx="1426.11" cy="780.32" r="19.90" fill="#2a2208"/>
<circle cx="1426.11" cy="829.15" r="19.90" fill="#2a2208"/>
<circle cx="1426.11" cy="877.98" r="19.90" fill="#2a2208"/>
<circle cx="1426.11" cy="926.81" r="19.90" fill="#2a2208"/>
<circle cx="1426.11" cy="975.64" r="19.90" fill="#2a2208"/>
<circle cx="1426.11" cy="1024.47" r="19.90" fill="#2a2208"/>
<circle cx="1426.11" cy="1073.30" r="19.90" fill="#2a2208"/>
<circle cx="1426.11" cy="1122.13" r="19.90" fill="#2a2208"/>
<circle cx="1426.11" cy="1170.96" r="19.90" fill="#2a2208"/>
<circle cx="1426.11" cy="1219.79" r="19.90" fill="#2a2208"/>
<circle cx="1426.11" cy="1268.62" r="19.90" fill="#2a2208"/>
<circle cx="1426.11" cy="1317.45" r="19.90" fill="#2a2208"/>
<circle cx="1426.11" cy="1366.28" r="19.90" fill="#2a2208"/>
<circle cx="1426.11" cy="1415.11" r="19.90" fill="#2a2208"/>
<circle cx="1474.94" cy="585.00" r="19.90" fill="#2a2208"/>
<circle cx="1474.94" cy="633.83" r="19.90" fill="#2a2208"/>
<circle cx="1474.94" cy="682.66" r="19.90" fill="#2a2208"/>
<circle cx="1474.94" cy="731.49" r="19.90" fill="#2a2208"/>
<circle cx="1474.94" cy="780.32" r="19.90" fill="#2a2208"/>
<circle cx="1474.94" cy="829.15" r="19.90" fill="#2a2208"/>
<circle cx="1474.94" cy="877.98" r="19.90" fill="#2a2208"/>
<circle cx="1474.94" cy="926.81" r="19.90" fill="#2a2208"/>
<circle cx="1474.94" cy="975.64" r="19.90" fill="#2a2208"/>
<circle cx="1474.94" cy="1024.47" r="19.90" fill="#2a2208"/>
<circle cx="1474.94" cy="1073.30" r="19.90" fill="#2a2208"/>
<circle cx="1474.94" cy="1122.13" r="19.90" fill="#2a2208"/>
<circle cx="1474.94" cy="1170.96" r="19.90" fill="#2a2208"/>
<circle cx="1474.94" cy="1219.79" r="19.90" fill="#2a2208"/>
<circle cx="1474.94" cy="1268.62" r="19.90" fill="#2a2208"/>
<circle cx="1474.94" cy="1317.45" r="19.90" fill="#2a2208"/>
<circle cx="1474.94" cy="1366.28" r="19.90" fill="#2a2208"/>
<circle cx="1474.94" cy="1415.11" r="19.90" fill="#2a2208"/>
<circle cx="1523.77" cy="585.00" r="19.90" fill="#2a2208"/>
<circle cx="1523.77" cy="633.83" r="19.90" fill="#2a2208"/>
<circle cx="1523.77" cy="682.66" r="19.90" fill="#2a2208"/>
<circle cx="1523.77" cy="731.49" r="19.90" fill="#2a2208"/>
<circle cx="1523.77" cy="780.32" r="19.90" fill="#2a2208"/>
<circle cx="1523.77" cy="829.15" r="19.90" fill="#2a2208"/>
<circle cx="1523.77" cy="877.98" r="19.90" fill="#2a2208"/>
<circle cx="1523.77" cy="926.81" r="19.90" fill="#2a2208"/>
<circle cx="1523.77" cy="975.64" r="19.90" fill="#2a2208"/>
<circle cx="1523.77" cy="1024.47" r="19.90" fill="#2a2208"/>
<circle cx="1523.77" cy="1073.30" r="19.90" fill="#2a2208"/>
<circle cx="1523.77" cy="1122.13" r="19.90" fill="#2a2208"/>
<circle cx="1523.77" cy="1170.96" r="19.90" fill="#2a2208"/>
<circle cx="1523.77" cy="1219.79" r="19.90" fill="#2a2208"/>
<circle cx="1523.77" cy="1268.62" r="19.90" fill="#2a2208"/>
<circle cx="1523.77" cy="1317.45" r="19.90" fill="#2a2208"/>
<circle cx="1523.77" cy="1366.28" r="19.90" fill="#2a2208"/>
<circle cx="1523.77" cy="1415.11" r="19.90" fill="#2a2208"/>
<circle cx="1607.30" cy="633.83" r="19.90" fill="#2a2208"/>
<circle cx="1607.30" cy="682.66" r="19.90" fill="#2a2208"/>
<circle cx="1607.30" cy="731.49" r="19.90" fill="#2a2208"/>
<circle cx="1607.30" cy="780.32" r="19.90" fill="#2a2208"/>
<circle cx="1607.30" cy="829.15" r="19.90" fill="#2a2208"/>
<circle cx="1607.30" cy="877.98" r="19.90" fill="#2a2208"/>
<circle cx="1607.30" cy="926.81" r="19.90" fill="#2a2208"/>
<circle cx="1607.30" cy="975.64" r="19.90" fill="#2a2208"/>
<circle cx="1607.30" cy="1024.47" r="19.90" fill="#2a2208"/>
<circle cx="1607.30" cy="1073.30" r="19.90" fill="#2a2208"/>
<circle cx="1607.30" cy="1122.13" r="19.90" fill="#2a2208"/>
<circle cx="1607.30" cy="1170.96" r="19.90" fill="#2a2208"/>
<circle cx="1607.30" cy="1219.79" r="19.90" fill="#2a2208"/>
<circle cx="1607.30" cy="1268.62" r="19.90" fill="#2a2208"/>
<circle cx="1607.30" cy="1317.45" r="19.90" fill="#2a2208"/>
<circle cx="1607.30" cy="1366.28" r="19.90" fill="#2a2208"/>
<circle cx="191.00" cy="558.00" r="20.50" fill="#2a2208"/>
<circle cx="532.60" cy="558.00" r="20.50" fill="#2a2208"/>
<circle cx="191.00" cy="606.83" r="20.50" fill="#2a2208"/>
<circle cx="532.60" cy="606.83" r="20.50" fill="#2a2208"/>
<circle cx="191.00" cy="655.66" r="20.50" fill="#2a2208"/>
<circle cx="532.60" cy="655.66" r="20.50" fill="#2a2208"/>
<circle cx="191.00" cy="704.49" r="20.50" fill="#2a2208"/>
<circle cx="532.60" cy="704.49" r="20.50" fill="#2a2208"/>
<circle cx="191.00" cy="753.32" r="20.50" fill="#2a2208"/>
<circle cx="532.60" cy="753.32" r="20.50" fill="#2a2208"/>
<circle cx="191.00" cy="802.15" r="20.50" fill="#2a2208"/>
<circle cx="532.60" cy="802.15" r="20.50" fill="#2a2208"/>
<circle cx="191.00" cy="850.98" r="20.50" fill="#2a2208"/>
<circle cx="532.60" cy="850.98" r="20.50" fill="#2a2208"/>
<circle cx="191.00" cy="899.81" r="20.50" fill="#2a2208"/>
<circle cx="532.60" cy="899.81" r="20.50" fill="#2a2208"/>
<circle cx="191.00" cy="948.64" r="20.50" fill="#2a2208"/>
<circle cx="532.60" cy="948.64" r="20.50" fill="#2a2208"/>
<circle cx="191.00" cy="997.47" r="20.50" fill="#2a2208"/>
<circle cx="532.60" cy="997.47" r="20.50" fill="#2a2208"/>
<circle cx="191.00" cy="1046.30" r="20.50" fill="#2a2208"/>
<circle cx="532.60" cy="1046.30" r="20.50" fill="#2a2208"/>
<circle cx="191.00" cy="1095.13" r="20.50" fill="#2a2208"/>
<circle cx="532.60" cy="1095.13" r="20.50" fill="#2a2208"/>
<circle cx="191.00" cy="1143.96" r="20.50" fill="#2a2208"/>
<circle cx="532.60" cy="1143.96" r="20.50" fill="#2a2208"/>
<circle cx="191.00" cy="1192.79" r="20.50" fill="#2a2208"/>
<circle cx="532.60" cy="1192.79" r="20.50" fill="#2a2208"/>
<circle cx="191.00" cy="1241.62" r="20.50" fill="#2a2208"/>
<circle cx="532.60" cy="1241.62" r="20.50" fill="#2a2208"/>
<circle cx="191.00" cy="1290.45" r="20.50" fill="#2a2208"/>
<circle cx="532.60" cy="1290.45" r="20.50" fill="#2a2208"/>
<circle cx="191.00" cy="1339.28" r="20.50" fill="#2a2208"/>
<circle cx="532.60" cy="1339.28" r="20.50" fill="#2a2208"/>
<circle cx="191.00" cy="1388.11" r="20.50" fill="#2a2208"/>
<circle cx="532.60" cy="1388.11" r="20.50" fill="#2a2208"/>
<circle cx="191.00" cy="1436.94" r="20.50" fill="#2a2208"/>
<circle cx="532.60" cy="1436.94" r="20.50" fill="#2a2208"/>
<circle cx="191.00" cy="1485.77" r="20.50" fill="#2a2208"/>
<circle cx="532.60" cy="1485.77" r="20.50" fill="#2a2208"/>
<circle cx="105.50" cy="1205.00" r="25.80" fill="#2a2208"/>
<circle cx="105.50" cy="1329.00" r="25.80" fill="#2a2208"/>
<line x1="596.00" y1="633.83" x2="596.00" y2="731.49" stroke="#2a2208" stroke-width="13.2"/>
<line x1="644.83" y1="633.83" x2="644.83" y2="731.49" stroke="#2a2208" stroke-width="13.2"/>
<line x1="693.66" y1="633.83" x2="693.66" y2="731.49" stroke="#2a2208" stroke-width="13.2"/>
<line x1="742.49" y1="633.83" x2="742.49" y2="731.49" stroke="#2a2208" stroke-width="13.2"/>
<line x1="791.32" y1="633.83" x2="791.32" y2="731.49" stroke="#2a2208" stroke-width="13.2"/>
<line x1="840.15" y1="633.83" x2="840.15" y2="731.49" stroke="#2a2208" stroke-width="13.2"/>
<line x1="888.98" y1="633.83" x2="888.98" y2="731.49" stroke="#2a2208" stroke-width="13.2"/>
<line x1="937.81" y1="633.83" x2="937.81" y2="731.49" stroke="#2a2208" stroke-width="13.2"/>
<line x1="986.64" y1="633.83" x2="986.64" y2="731.49" stroke="#2a2208" stroke-width="13.2"/>
<line x1="1035.47" y1="633.83" x2="1035.47" y2="731.49" stroke="#2a2208" stroke-width="13.2"/>
<line x1="1084.30" y1="633.83" x2="1084.30" y2="731.49" stroke="#2a2208" stroke-width="13.2"/>
<line x1="1133.13" y1="633.83" x2="1133.13" y2="731.49" stroke="#2a2208" stroke-width="13.2"/>
<line x1="1181.96" y1="633.83" x2="1181.96" y2="731.49" stroke="#2a2208" stroke-width="13.2"/>
<line x1="1230.79" y1="633.83" x2="1230.79" y2="731.49" stroke="#2a2208" stroke-width="13.2"/>
<line x1="1279.62" y1="633.83" x2="1279.62" y2="731.49" stroke="#2a2208" stroke-width="13.2"/>
<line x1="1328.45" y1="633.83" x2="1328.45" y2="731.49" stroke="#2a2208" stroke-width="13.2"/>
<line x1="1377.28" y1="633.83" x2="1377.28" y2="731.49" stroke="#2a2208" stroke-width="13.2"/>
<line x1="1426.11" y1="633.83" x2="1426.11" y2="731.49" stroke="#2a2208" stroke-width="13.2"/>
<line x1="1474.94" y1="633.83" x2="1474.94" y2="731.49" stroke="#2a2208" stroke-width="13.2"/>
<line x1="1523.77" y1="633.83" x2="1523.77" y2="731.49" stroke="#2a2208" stroke-width="13.2"/>
<line x1="596.00" y1="877.98" x2="596.00" y2="975.64" stroke="#2a2208" stroke-width="13.2"/>
<line x1="644.83" y1="877.98" x2="644.83" y2="975.64" stroke="#2a2208" stroke-width="13.2"/>
<line x1="693.66" y1="877.98" x2="693.66" y2="975.64" stroke="#2a2208" stroke-width="13.2"/>
<line x1="742.49" y1="877.98" x2="742.49" y2="975.64" stroke="#2a2208" stroke-width="13.2"/>
<line x1="791.32" y1="877.98" x2="791.32" y2="975.64" stroke="#2a2208" stroke-width="13.2"/>
<line x1="840.15" y1="877.98" x2="840.15" y2="975.64" stroke="#2a2208" stroke-width="13.2"/>
<line x1="888.98" y1="877.98" x2="888.98" y2="975.64" stroke="#2a2208" stroke-width="13.2"/>
<line x1="937.81" y1="877.98" x2="937.81" y2="975.64" stroke="#2a2208" stroke-width="13.2"/>
<line x1="986.64" y1="877.98" x2="986.64" y2="975.64" stroke="#2a2208" stroke-width="13.2"/>
<line x1="1035.47" y1="877.98" x2="1035.47" y2="975.64" stroke="#2a2208" stroke-width="13.2"/>
<line x1="1084.30" y1="877.98" x2="1084.30" y2="975.64" stroke="#2a2208" stroke-width="13.2"/>
<line x1="1133.13" y1="877.98" x2="1133.13" y2="975.64" stroke="#2a2208" stroke-width="13.2"/>
<line x1="1181.96" y1="877.98" x2="1181.96" y2="975.64" stroke="#2a2208" stroke-width="13.2"/>
<line x1="1230.79" y1="877.98" x2="1230.79" y2="975.64" stroke="#2a2208" stroke-width="13.2"/>
<line x1="1279.62" y1="877.98" x2="1279.62" y2="975.64" stroke="#2a2208" stroke-width="13.2"/>
<line x1="1328.45" y1="877.98" x2="1328.45" y2="975.64" stroke="#2a2208" stroke-width="13.2"/>
<line x1="1377.28" y1="877.98" x2="1377.28" y2="975.64" stroke="#2a2208" stroke-width="13.2"/>
<line x1="1426.11" y1="877.98" x2="1426.11" y2="975.64" stroke="#2a2208" stroke-width="13.2"/>
<line x1="1474.94" y1="877.98" x2="1474.94" y2="975.64" stroke="#2a2208" stroke-width="13.2"/>
<line x1="1523.77" y1="877.98" x2="1523.77" y2="975.64" stroke="#2a2208" stroke-width="13.2"/>
<line x1="596.00" y1="1024.47" x2="596.00" y2="1122.13" stroke="#2a2208" stroke-width="13.2"/>
<line x1="644.83" y1="1024.47" x2="644.83" y2="1122.13" stroke="#2a2208" stroke-width="13.2"/>
<line x1="693.66" y1="1024.47" x2="693.66" y2="1122.13" stroke="#2a2208" stroke-width="13.2"/>
<line x1="742.49" y1="1024.47" x2="742.49" y2="1122.13" stroke="#2a2208" stroke-width="13.2"/>
<line x1="791.32" y1="1024.47" x2="791.32" y2="1122.13" stroke="#2a2208" stroke-width="13.2"/>
<line x1="840.15" y1="1024.47" x2="840.15" y2="1122.13" stroke="#2a2208" stroke-width="13.2"/>
<line x1="888.98" y1="1024.47" x2="888.98" y2="1122.13" stroke="#2a2208" stroke-width="13.2"/>
<line x1="937.81" y1="1024.47" x2="937.81" y2="1122.13" stroke="#2a2208" stroke-width="13.2"/>
<line x1="986.64" y1="1024.47" x2="986.64" y2="1122.13" stroke="#2a2208" stroke-width="13.2"/>
<line x1="1035.47" y1="1024.47" x2="1035.47" y2="1122.13" stroke="#2a2208" stroke-width="13.2"/>
<line x1="1084.30" y1="1024.47" x2="1084.30" y2="1122.13" stroke="#2a2208" stroke-width="13.2"/>
<line x1="1133.13" y1="1024.47" x2="1133.13" y2="1122.13" stroke="#2a2208" stroke-width="13.2"/>
<line x1="1181.96" y1="1024.47" x2="1181.96" y2="1122.13" stroke="#2a2208" stroke-width="13.2"/>
<line x1="1230.79" y1="1024.47" x2="1230.79" y2="1122.13" stroke="#2a2208" stroke-width="13.2"/>
<line x1="1279.62" y1="1024.47" x2="1279.62" y2="1122.13" stroke="#2a2208" stroke-width="13.2"/>
<line x1="1328.45" y1="1024.47" x2="1328.45" y2="1122.13" stroke="#2a2208" stroke-width="13.2"/>
<line x1="1377.28" y1="1024.47" x2="1377.28" y2="1122.13" stroke="#2a2208" stroke-width="13.2"/>
<line x1="1426.11" y1="1024.47" x2="1426.11" y2="1122.13" stroke="#2a2208" stroke-width="13.2"/>
<line x1="1474.94" y1="1024.47" x2="1474.94" y2="1122.13" stroke="#2a2208" stroke-width="13.2"/>
<line x1="1523.77" y1="1024.47" x2="1523.77" y2="1122.13" stroke="#2a2208" stroke-width="13.2"/>
<line x1="596.00" y1="1268.62" x2="596.00" y2="1366.28" stroke="#2a2208" stroke-width="13.2"/>
<line x1="644.83" y1="1268.62" x2="644.83" y2="1366.28" stroke="#2a2208" stroke-width="13.2"/>
<line x1="693.66" y1="1268.62" x2="693.66" y2="1366.28" stroke="#2a2208" stroke-width="13.2"/>
<line x1="742.49" y1="1268.62" x2="742.49" y2="1366.28" stroke="#2a2208" stroke-width="13.2"/>
<line x1="791.32" y1="1268.62" x2="791.32" y2="1366.28" stroke="#2a2208" stroke-width="13.2"/>
<line x1="840.15" y1="1268.62" x2="840.15" y2="1366.28" stroke="#2a2208" stroke-width="13.2"/>
<line x1="888.98" y1="1268.62" x2="888.98" y2="1366.28" stroke="#2a2208" stroke-width="13.2"/>
<line x1="937.81" y1="1268.62" x2="937.81" y2="1366.28" stroke="#2a2208" stroke-width="13.2"/>
<line x1="986.64" y1="1268.62" x2="986.64" y2="1366.28" stroke="#2a2208" stroke-width="13.2"/>
<line x1="1035.47" y1="1268.62" x2="1035.47" y2="1366.28" stroke="#2a2208" stroke-width="13.2"/>
<line x1="1084.30" y1="1268.62" x2="1084.30" y2="1366.28" stroke="#2a2208" stroke-width="13.2"/>
<line x1="1133.13" y1="1268.62" x2="1133.13" y2="1366.28" stroke="#2a2208" stroke-width="13.2"/>
<line x1="1181.96" y1="1268.62" x2="1181.96" y2="1366.28" stroke="#2a2208" stroke-width="13.2"/>
<line x1="1230.79" y1="1268.62" x2="1230.79" y2="1366.28" stroke="#2a2208" stroke-width="13.2"/>
<line x1="1279.62" y1="1268.62" x2="1279.62" y2="1366.28" stroke="#2a2208" stroke-width="13.2"/>
<line x1="1328.45" y1="1268.62" x2="1328.45" y2="1366.28" stroke="#2a2208" stroke-width="13.2"/>
<line x1="1377.28" y1="1268.62" x2="1377.28" y2="1366.28" stroke="#2a2208" stroke-width="13.2"/>
<line x1="1426.11" y1="1268.62" x2="1426.11" y2="1366.28" stroke="#2a2208" stroke-width="13.2"/>
<line x1="1474.94" y1="1268.62" x2="1474.94" y2="1366.28" stroke="#2a2208" stroke-width="13.2"/>
<line x1="1523.77" y1="1268.62" x2="1523.77" y2="1366.28" stroke="#2a2208" stroke-width="13.2"/>
<line x1="596.00" y1="780.32" x2="1035.47" y2="780.32" stroke="#2a2208" stroke-width="13.2"/>
<line x1="1084.30" y1="780.32" x2="1523.77" y2="780.32" stroke="#2a2208" stroke-width="13.2"/>
<line x1="596.00" y1="829.15" x2="1035.47" y2="829.15" stroke="#2a2208" stroke-width="13.2"/>
<line x1="1084.30" y1="829.15" x2="1523.77" y2="829.15" stroke="#2a2208" stroke-width="13.2"/>
<line x1="596.00" y1="1170.96" x2="1035.47" y2="1170.96" stroke="#2a2208" stroke-width="13.2"/>
<line x1="1084.30" y1="1170.96" x2="1523.77" y2="1170.96" stroke="#2a2208" stroke-width="13.2"/>
<line x1="596.00" y1="1219.79" x2="1035.47" y2="1219.79" stroke="#2a2208" stroke-width="13.2"/>
<line x1="1084.30" y1="1219.79" x2="1523.77" y2="1219.79" stroke="#2a2208" stroke-width="13.2"/>
<line x1="1607.30" y1="633.83" x2="1607.30" y2="975.64" stroke="#2a2208" stroke-width="13.2"/>
<line x1="1607.30" y1="1024.47" x2="1607.30" y2="1366.28" stroke="#2a2208" stroke-width="13.2"/>
<circle cx="107.5" cy="519" r="51.5" fill="#2a2208"/>
<circle cx="1602.5" cy="519" r="51.5" fill="#2a2208"/>
<circle cx="107.5" cy="1478.5" r="51.5" fill="#2a2208"/>
<circle cx="1602.5" cy="1478.5" r="51.5" fill="#2a2208"/>
<circle cx="596.00" cy="585.00" r="18.30" fill="#DFAC1E"/>
<circle cx="596.00" cy="633.83" r="18.30" fill="#DFAC1E"/>
<circle cx="596.00" cy="682.66" r="18.30" fill="#DFAC1E"/>
<circle cx="596.00" cy="731.49" r="18.30" fill="#DFAC1E"/>
<circle cx="596.00" cy="780.32" r="18.30" fill="#DFAC1E"/>
<circle cx="596.00" cy="829.15" r="18.30" fill="#DFAC1E"/>
<circle cx="596.00" cy="877.98" r="18.30" fill="#DFAC1E"/>
<circle cx="596.00" cy="926.81" r="18.30" fill="#DFAC1E"/>
<circle cx="596.00" cy="975.64" r="18.30" fill="#DFAC1E"/>
<circle cx="596.00" cy="1024.47" r="18.30" fill="#DFAC1E"/>
<circle cx="596.00" cy="1073.30" r="18.30" fill="#DFAC1E"/>
<circle cx="596.00" cy="1122.13" r="18.30" fill="#DFAC1E"/>
<circle cx="596.00" cy="1170.96" r="18.30" fill="#DFAC1E"/>
<circle cx="596.00" cy="1219.79" r="18.30" fill="#DFAC1E"/>
<circle cx="596.00" cy="1268.62" r="18.30" fill="#DFAC1E"/>
<circle cx="596.00" cy="1317.45" r="18.30" fill="#DFAC1E"/>
<circle cx="596.00" cy="1366.28" r="18.30" fill="#DFAC1E"/>
<circle cx="596.00" cy="1415.11" r="18.30" fill="#DFAC1E"/>
<circle cx="644.83" cy="585.00" r="18.30" fill="#DFAC1E"/>
<circle cx="644.83" cy="633.83" r="18.30" fill="#DFAC1E"/>
<circle cx="644.83" cy="682.66" r="18.30" fill="#DFAC1E"/>
<circle cx="644.83" cy="731.49" r="18.30" fill="#DFAC1E"/>
<circle cx="644.83" cy="780.32" r="18.30" fill="#DFAC1E"/>
<circle cx="644.83" cy="829.15" r="18.30" fill="#DFAC1E"/>
<circle cx="644.83" cy="877.98" r="18.30" fill="#DFAC1E"/>
<circle cx="644.83" cy="926.81" r="18.30" fill="#DFAC1E"/>
<circle cx="644.83" cy="975.64" r="18.30" fill="#DFAC1E"/>
<circle cx="644.83" cy="1024.47" r="18.30" fill="#DFAC1E"/>
<circle cx="644.83" cy="1073.30" r="18.30" fill="#DFAC1E"/>
<circle cx="644.83" cy="1122.13" r="18.30" fill="#DFAC1E"/>
<circle cx="644.83" cy="1170.96" r="18.30" fill="#DFAC1E"/>
<circle cx="644.83" cy="1219.79" r="18.30" fill="#DFAC1E"/>
<circle cx="644.83" cy="1268.62" r="18.30" fill="#DFAC1E"/>
<circle cx="644.83" cy="1317.45" r="18.30" fill="#DFAC1E"/>
<circle cx="644.83" cy="1366.28" r="18.30" fill="#DFAC1E"/>
<circle cx="644.83" cy="1415.11" r="18.30" fill="#DFAC1E"/>
<circle cx="693.66" cy="585.00" r="18.30" fill="#DFAC1E"/>
<circle cx="693.66" cy="633.83" r="18.30" fill="#DFAC1E"/>
<circle cx="693.66" cy="682.66" r="18.30" fill="#DFAC1E"/>
<circle cx="693.66" cy="731.49" r="18.30" fill="#DFAC1E"/>
<circle cx="693.66" cy="780.32" r="18.30" fill="#DFAC1E"/>
<circle cx="693.66" cy="829.15" r="18.30" fill="#DFAC1E"/>
<circle cx="693.66" cy="877.98" r="18.30" fill="#DFAC1E"/>
<circle cx="693.66" cy="926.81" r="18.30" fill="#DFAC1E"/>
<circle cx="693.66" cy="975.64" r="18.30" fill="#DFAC1E"/>
<circle cx="693.66" cy="1024.47" r="18.30" fill="#DFAC1E"/>
<circle cx="693.66" cy="1073.30" r="18.30" fill="#DFAC1E"/>
<circle cx="693.66" cy="1122.13" r="18.30" fill="#DFAC1E"/>
<circle cx="693.66" cy="1170.96" r="18.30" fill="#DFAC1E"/>
<circle cx="693.66" cy="1219.79" r="18.30" fill="#DFAC1E"/>
<circle cx="693.66" cy="1268.62" r="18.30" fill="#DFAC1E"/>
<circle cx="693.66" cy="1317.45" r="18.30" fill="#DFAC1E"/>
<circle cx="693.66" cy="1366.28" r="18.30" fill="#DFAC1E"/>
<circle cx="693.66" cy="1415.11" r="18.30" fill="#DFAC1E"/>
<circle cx="742.49" cy="585.00" r="18.30" fill="#DFAC1E"/>
<circle cx="742.49" cy="633.83" r="18.30" fill="#DFAC1E"/>
<circle cx="742.49" cy="682.66" r="18.30" fill="#DFAC1E"/>
<circle cx="742.49" cy="731.49" r="18.30" fill="#DFAC1E"/>
<circle cx="742.49" cy="780.32" r="18.30" fill="#DFAC1E"/>
<circle cx="742.49" cy="829.15" r="18.30" fill="#DFAC1E"/>
<circle cx="742.49" cy="877.98" r="18.30" fill="#DFAC1E"/>
<circle cx="742.49" cy="926.81" r="18.30" fill="#DFAC1E"/>
<circle cx="742.49" cy="975.64" r="18.30" fill="#DFAC1E"/>
<circle cx="742.49" cy="1024.47" r="18.30" fill="#DFAC1E"/>
<circle cx="742.49" cy="1073.30" r="18.30" fill="#DFAC1E"/>
<circle cx="742.49" cy="1122.13" r="18.30" fill="#DFAC1E"/>
<circle cx="742.49" cy="1170.96" r="18.30" fill="#DFAC1E"/>
<circle cx="742.49" cy="1219.79" r="18.30" fill="#DFAC1E"/>
<circle cx="742.49" cy="1268.62" r="18.30" fill="#DFAC1E"/>
<circle cx="742.49" cy="1317.45" r="18.30" fill="#DFAC1E"/>
<circle cx="742.49" cy="1366.28" r="18.30" fill="#DFAC1E"/>
<circle cx="742.49" cy="1415.11" r="18.30" fill="#DFAC1E"/>
<circle cx="791.32" cy="585.00" r="18.30" fill="#DFAC1E"/>
<circle cx="791.32" cy="633.83" r="18.30" fill="#DFAC1E"/>
<circle cx="791.32" cy="682.66" r="18.30" fill="#DFAC1E"/>
<circle cx="791.32" cy="731.49" r="18.30" fill="#DFAC1E"/>
<circle cx="791.32" cy="780.32" r="18.30" fill="#DFAC1E"/>
<circle cx="791.32" cy="829.15" r="18.30" fill="#DFAC1E"/>
<circle cx="791.32" cy="877.98" r="18.30" fill="#DFAC1E"/>
<circle cx="791.32" cy="926.81" r="18.30" fill="#DFAC1E"/>
<circle cx="791.32" cy="975.64" r="18.30" fill="#DFAC1E"/>
<circle cx="791.32" cy="1024.47" r="18.30" fill="#DFAC1E"/>
<circle cx="791.32" cy="1073.30" r="18.30" fill="#DFAC1E"/>
<circle cx="791.32" cy="1122.13" r="18.30" fill="#DFAC1E"/>
<circle cx="791.32" cy="1170.96" r="18.30" fill="#DFAC1E"/>
<circle cx="791.32" cy="1219.79" r="18.30" fill="#DFAC1E"/>
<circle cx="791.32" cy="1268.62" r="18.30" fill="#DFAC1E"/>
<circle cx="791.32" cy="1317.45" r="18.30" fill="#DFAC1E"/>
<circle cx="791.32" cy="1366.28" r="18.30" fill="#DFAC1E"/>
<circle cx="791.32" cy="1415.11" r="18.30" fill="#DFAC1E"/>
<circle cx="840.15" cy="585.00" r="18.30" fill="#DFAC1E"/>
<circle cx="840.15" cy="633.83" r="18.30" fill="#DFAC1E"/>
<circle cx="840.15" cy="682.66" r="18.30" fill="#DFAC1E"/>
<circle cx="840.15" cy="731.49" r="18.30" fill="#DFAC1E"/>
<circle cx="840.15" cy="780.32" r="18.30" fill="#DFAC1E"/>
<circle cx="840.15" cy="829.15" r="18.30" fill="#DFAC1E"/>
<circle cx="840.15" cy="877.98" r="18.30" fill="#DFAC1E"/>
<circle cx="840.15" cy="926.81" r="18.30" fill="#DFAC1E"/>
<circle cx="840.15" cy="975.64" r="18.30" fill="#DFAC1E"/>
<circle cx="840.15" cy="1024.47" r="18.30" fill="#DFAC1E"/>
<circle cx="840.15" cy="1073.30" r="18.30" fill="#DFAC1E"/>
<circle cx="840.15" cy="1122.13" r="18.30" fill="#DFAC1E"/>
<circle cx="840.15" cy="1170.96" r="18.30" fill="#DFAC1E"/>
<circle cx="840.15" cy="1219.79" r="18.30" fill="#DFAC1E"/>
<circle cx="840.15" cy="1268.62" r="18.30" fill="#DFAC1E"/>
<circle cx="840.15" cy="1317.45" r="18.30" fill="#DFAC1E"/>
<circle cx="840.15" cy="1366.28" r="18.30" fill="#DFAC1E"/>
<circle cx="840.15" cy="1415.11" r="18.30" fill="#DFAC1E"/>
<circle cx="888.98" cy="585.00" r="18.30" fill="#DFAC1E"/>
<circle cx="888.98" cy="633.83" r="18.30" fill="#DFAC1E"/>
<circle cx="888.98" cy="682.66" r="18.30" fill="#DFAC1E"/>
<circle cx="888.98" cy="731.49" r="18.30" fill="#DFAC1E"/>
<circle cx="888.98" cy="780.32" r="18.30" fill="#DFAC1E"/>
<circle cx="888.98" cy="829.15" r="18.30" fill="#DFAC1E"/>
<circle cx="888.98" cy="877.98" r="18.30" fill="#DFAC1E"/>
<circle cx="888.98" cy="926.81" r="18.30" fill="#DFAC1E"/>
<circle cx="888.98" cy="975.64" r="18.30" fill="#DFAC1E"/>
<circle cx="888.98" cy="1024.47" r="18.30" fill="#DFAC1E"/>
<circle cx="888.98" cy="1073.30" r="18.30" fill="#DFAC1E"/>
<circle cx="888.98" cy="1122.13" r="18.30" fill="#DFAC1E"/>
<circle cx="888.98" cy="1170.96" r="18.30" fill="#DFAC1E"/>
<circle cx="888.98" cy="1219.79" r="18.30" fill="#DFAC1E"/>
<circle cx="888.98" cy="1268.62" r="18.30" fill="#DFAC1E"/>
<circle cx="888.98" cy="1317.45" r="18.30" fill="#DFAC1E"/>
<circle cx="888.98" cy="1366.28" r="18.30" fill="#DFAC1E"/>
<circle cx="888.98" cy="1415.11" r="18.30" fill="#DFAC1E"/>
<circle cx="937.81" cy="585.00" r="18.30" fill="#DFAC1E"/>
<circle cx="937.81" cy="633.83" r="18.30" fill="#DFAC1E"/>
<circle cx="937.81" cy="682.66" r="18.30" fill="#DFAC1E"/>
<circle cx="937.81" cy="731.49" r="18.30" fill="#DFAC1E"/>
<circle cx="937.81" cy="780.32" r="18.30" fill="#DFAC1E"/>
<circle cx="937.81" cy="829.15" r="18.30" fill="#DFAC1E"/>
<circle cx="937.81" cy="877.98" r="18.30" fill="#DFAC1E"/>
<circle cx="937.81" cy="926.81" r="18.30" fill="#DFAC1E"/>
<circle cx="937.81" cy="975.64" r="18.30" fill="#DFAC1E"/>
<circle cx="937.81" cy="1024.47" r="18.30" fill="#DFAC1E"/>
<circle cx="937.81" cy="1073.30" r="18.30" fill="#DFAC1E"/>
<circle cx="937.81" cy="1122.13" r="18.30" fill="#DFAC1E"/>
<circle cx="937.81" cy="1170.96" r="18.30" fill="#DFAC1E"/>
<circle cx="937.81" cy="1219.79" r="18.30" fill="#DFAC1E"/>
<circle cx="937.81" cy="1268.62" r="18.30" fill="#DFAC1E"/>
<circle cx="937.81" cy="1317.45" r="18.30" fill="#DFAC1E"/>
<circle cx="937.81" cy="1366.28" r="18.30" fill="#DFAC1E"/>
<circle cx="937.81" cy="1415.11" r="18.30" fill="#DFAC1E"/>
<circle cx="986.64" cy="585.00" r="18.30" fill="#DFAC1E"/>
<circle cx="986.64" cy="633.83" r="18.30" fill="#DFAC1E"/>
<circle cx="986.64" cy="682.66" r="18.30" fill="#DFAC1E"/>
<circle cx="986.64" cy="731.49" r="18.30" fill="#DFAC1E"/>
<circle cx="986.64" cy="780.32" r="18.30" fill="#DFAC1E"/>
<circle cx="986.64" cy="829.15" r="18.30" fill="#DFAC1E"/>
<circle cx="986.64" cy="877.98" r="18.30" fill="#DFAC1E"/>
<circle cx="986.64" cy="926.81" r="18.30" fill="#DFAC1E"/>
<circle cx="986.64" cy="975.64" r="18.30" fill="#DFAC1E"/>
<circle cx="986.64" cy="1024.47" r="18.30" fill="#DFAC1E"/>
<circle cx="986.64" cy="1073.30" r="18.30" fill="#DFAC1E"/>
<circle cx="986.64" cy="1122.13" r="18.30" fill="#DFAC1E"/>
<circle cx="986.64" cy="1170.96" r="18.30" fill="#DFAC1E"/>
<circle cx="986.64" cy="1219.79" r="18.30" fill="#DFAC1E"/>
<circle cx="986.64" cy="1268.62" r="18.30" fill="#DFAC1E"/>
<circle cx="986.64" cy="1317.45" r="18.30" fill="#DFAC1E"/>
<circle cx="986.64" cy="1366.28" r="18.30" fill="#DFAC1E"/>
<circle cx="986.64" cy="1415.11" r="18.30" fill="#DFAC1E"/>
<circle cx="1035.47" cy="585.00" r="18.30" fill="#DFAC1E"/>
<circle cx="1035.47" cy="633.83" r="18.30" fill="#DFAC1E"/>
<circle cx="1035.47" cy="682.66" r="18.30" fill="#DFAC1E"/>
<circle cx="1035.47" cy="731.49" r="18.30" fill="#DFAC1E"/>
<circle cx="1035.47" cy="780.32" r="18.30" fill="#DFAC1E"/>
<circle cx="1035.47" cy="829.15" r="18.30" fill="#DFAC1E"/>
<circle cx="1035.47" cy="877.98" r="18.30" fill="#DFAC1E"/>
<circle cx="1035.47" cy="926.81" r="18.30" fill="#DFAC1E"/>
<circle cx="1035.47" cy="975.64" r="18.30" fill="#DFAC1E"/>
<circle cx="1035.47" cy="1024.47" r="18.30" fill="#DFAC1E"/>
<circle cx="1035.47" cy="1073.30" r="18.30" fill="#DFAC1E"/>
<circle cx="1035.47" cy="1122.13" r="18.30" fill="#DFAC1E"/>
<circle cx="1035.47" cy="1170.96" r="18.30" fill="#DFAC1E"/>
<circle cx="1035.47" cy="1219.79" r="18.30" fill="#DFAC1E"/>
<circle cx="1035.47" cy="1268.62" r="18.30" fill="#DFAC1E"/>
<circle cx="1035.47" cy="1317.45" r="18.30" fill="#DFAC1E"/>
<circle cx="1035.47" cy="1366.28" r="18.30" fill="#DFAC1E"/>
<circle cx="1035.47" cy="1415.11" r="18.30" fill="#DFAC1E"/>
<circle cx="1084.30" cy="585.00" r="18.30" fill="#DFAC1E"/>
<circle cx="1084.30" cy="633.83" r="18.30" fill="#DFAC1E"/>
<circle cx="1084.30" cy="682.66" r="18.30" fill="#DFAC1E"/>
<circle cx="1084.30" cy="731.49" r="18.30" fill="#DFAC1E"/>
<circle cx="1084.30" cy="780.32" r="18.30" fill="#DFAC1E"/>
<circle cx="1084.30" cy="829.15" r="18.30" fill="#DFAC1E"/>
<circle cx="1084.30" cy="877.98" r="18.30" fill="#DFAC1E"/>
<circle cx="1084.30" cy="926.81" r="18.30" fill="#DFAC1E"/>
<circle cx="1084.30" cy="975.64" r="18.30" fill="#DFAC1E"/>
<circle cx="1084.30" cy="1024.47" r="18.30" fill="#DFAC1E"/>
<circle cx="1084.30" cy="1073.30" r="18.30" fill="#DFAC1E"/>
<circle cx="1084.30" cy="1122.13" r="18.30" fill="#DFAC1E"/>
<circle cx="1084.30" cy="1170.96" r="18.30" fill="#DFAC1E"/>
<circle cx="1084.30" cy="1219.79" r="18.30" fill="#DFAC1E"/>
<circle cx="1084.30" cy="1268.62" r="18.30" fill="#DFAC1E"/>
<circle cx="1084.30" cy="1317.45" r="18.30" fill="#DFAC1E"/>
<circle cx="1084.30" cy="1366.28" r="18.30" fill="#DFAC1E"/>
<circle cx="1084.30" cy="1415.11" r="18.30" fill="#DFAC1E"/>
<circle cx="1133.13" cy="585.00" r="18.30" fill="#DFAC1E"/>
<circle cx="1133.13" cy="633.83" r="18.30" fill="#DFAC1E"/>
<circle cx="1133.13" cy="682.66" r="18.30" fill="#DFAC1E"/>
<circle cx="1133.13" cy="731.49" r="18.30" fill="#DFAC1E"/>
<circle cx="1133.13" cy="780.32" r="18.30" fill="#DFAC1E"/>
<circle cx="1133.13" cy="829.15" r="18.30" fill="#DFAC1E"/>
<circle cx="1133.13" cy="877.98" r="18.30" fill="#DFAC1E"/>
<circle cx="1133.13" cy="926.81" r="18.30" fill="#DFAC1E"/>
<circle cx="1133.13" cy="975.64" r="18.30" fill="#DFAC1E"/>
<circle cx="1133.13" cy="1024.47" r="18.30" fill="#DFAC1E"/>
<circle cx="1133.13" cy="1073.30" r="18.30" fill="#DFAC1E"/>
<circle cx="1133.13" cy="1122.13" r="18.30" fill="#DFAC1E"/>
<circle cx="1133.13" cy="1170.96" r="18.30" fill="#DFAC1E"/>
<circle cx="1133.13" cy="1219.79" r="18.30" fill="#DFAC1E"/>
<circle cx="1133.13" cy="1268.62" r="18.30" fill="#DFAC1E"/>
<circle cx="1133.13" cy="1317.45" r="18.30" fill="#DFAC1E"/>
<circle cx="1133.13" cy="1366.28" r="18.30" fill="#DFAC1E"/>
<circle cx="1133.13" cy="1415.11" r="18.30" fill="#DFAC1E"/>
<circle cx="1181.96" cy="585.00" r="18.30" fill="#DFAC1E"/>
<circle cx="1181.96" cy="633.83" r="18.30" fill="#DFAC1E"/>
<circle cx="1181.96" cy="682.66" r="18.30" fill="#DFAC1E"/>
<circle cx="1181.96" cy="731.49" r="18.30" fill="#DFAC1E"/>
<circle cx="1181.96" cy="780.32" r="18.30" fill="#DFAC1E"/>
<circle cx="1181.96" cy="829.15" r="18.30" fill="#DFAC1E"/>
<circle cx="1181.96" cy="877.98" r="18.30" fill="#DFAC1E"/>
<circle cx="1181.96" cy="926.81" r="18.30" fill="#DFAC1E"/>
<circle cx="1181.96" cy="975.64" r="18.30" fill="#DFAC1E"/>
<circle cx="1181.96" cy="1024.47" r="18.30" fill="#DFAC1E"/>
<circle cx="1181.96" cy="1073.30" r="18.30" fill="#DFAC1E"/>
<circle cx="1181.96" cy="1122.13" r="18.30" fill="#DFAC1E"/>
<circle cx="1181.96" cy="1170.96" r="18.30" fill="#DFAC1E"/>
<circle cx="1181.96" cy="1219.79" r="18.30" fill="#DFAC1E"/>
<circle cx="1181.96" cy="1268.62" r="18.30" fill="#DFAC1E"/>
<circle cx="1181.96" cy="1317.45" r="18.30" fill="#DFAC1E"/>
<circle cx="1181.96" cy="1366.28" r="18.30" fill="#DFAC1E"/>
<circle cx="1181.96" cy="1415.11" r="18.30" fill="#DFAC1E"/>
<circle cx="1230.79" cy="585.00" r="18.30" fill="#DFAC1E"/>
<circle cx="1230.79" cy="633.83" r="18.30" fill="#DFAC1E"/>
<circle cx="1230.79" cy="682.66" r="18.30" fill="#DFAC1E"/>
<circle cx="1230.79" cy="731.49" r="18.30" fill="#DFAC1E"/>
<circle cx="1230.79" cy="780.32" r="18.30" fill="#DFAC1E"/>
<circle cx="1230.79" cy="829.15" r="18.30" fill="#DFAC1E"/>
<circle cx="1230.79" cy="877.98" r="18.30" fill="#DFAC1E"/>
<circle cx="1230.79" cy="926.81" r="18.30" fill="#DFAC1E"/>
<circle cx="1230.79" cy="975.64" r="18.30" fill="#DFAC1E"/>
<circle cx="1230.79" cy="1024.47" r="18.30" fill="#DFAC1E"/>
<circle cx="1230.79" cy="1073.30" r="18.30" fill="#DFAC1E"/>
<circle cx="1230.79" cy="1122.13" r="18.30" fill="#DFAC1E"/>
<circle cx="1230.79" cy="1170.96" r="18.30" fill="#DFAC1E"/>
<circle cx="1230.79" cy="1219.79" r="18.30" fill="#DFAC1E"/>
<circle cx="1230.79" cy="1268.62" r="18.30" fill="#DFAC1E"/>
<circle cx="1230.79" cy="1317.45" r="18.30" fill="#DFAC1E"/>
<circle cx="1230.79" cy="1366.28" r="18.30" fill="#DFAC1E"/>
<circle cx="1230.79" cy="1415.11" r="18.30" fill="#DFAC1E"/>
<circle cx="1279.62" cy="585.00" r="18.30" fill="#DFAC1E"/>
<circle cx="1279.62" cy="633.83" r="18.30" fill="#DFAC1E"/>
<circle cx="1279.62" cy="682.66" r="18.30" fill="#DFAC1E"/>
<circle cx="1279.62" cy="731.49" r="18.30" fill="#DFAC1E"/>
<circle cx="1279.62" cy="780.32" r="18.30" fill="#DFAC1E"/>
<circle cx="1279.62" cy="829.15" r="18.30" fill="#DFAC1E"/>
<circle cx="1279.62" cy="877.98" r="18.30" fill="#DFAC1E"/>
<circle cx="1279.62" cy="926.81" r="18.30" fill="#DFAC1E"/>
<circle cx="1279.62" cy="975.64" r="18.30" fill="#DFAC1E"/>
<circle cx="1279.62" cy="1024.47" r="18.30" fill="#DFAC1E"/>
<circle cx="1279.62" cy="1073.30" r="18.30" fill="#DFAC1E"/>
<circle cx="1279.62" cy="1122.13" r="18.30" fill="#DFAC1E"/>
<circle cx="1279.62" cy="1170.96" r="18.30" fill="#DFAC1E"/>
<circle cx="1279.62" cy="1219.79" r="18.30" fill="#DFAC1E"/>
<circle cx="1279.62" cy="1268.62" r="18.30" fill="#DFAC1E"/>
<circle cx="1279.62" cy="1317.45" r="18.30" fill="#DFAC1E"/>
<circle cx="1279.62" cy="1366.28" r="18.30" fill="#DFAC1E"/>
<circle cx="1279.62" cy="1415.11" r="18.30" fill="#DFAC1E"/>
<circle cx="1328.45" cy="585.00" r="18.30" fill="#DFAC1E"/>
<circle cx="1328.45" cy="633.83" r="18.30" fill="#DFAC1E"/>
<circle cx="1328.45" cy="682.66" r="18.30" fill="#DFAC1E"/>
<circle cx="1328.45" cy="731.49" r="18.30" fill="#DFAC1E"/>
<circle cx="1328.45" cy="780.32" r="18.30" fill="#DFAC1E"/>
<circle cx="1328.45" cy="829.15" r="18.30" fill="#DFAC1E"/>
<circle cx="1328.45" cy="877.98" r="18.30" fill="#DFAC1E"/>
<circle cx="1328.45" cy="926.81" r="18.30" fill="#DFAC1E"/>
<circle cx="1328.45" cy="975.64" r="18.30" fill="#DFAC1E"/>
<circle cx="1328.45" cy="1024.47" r="18.30" fill="#DFAC1E"/>
<circle cx="1328.45" cy="1073.30" r="18.30" fill="#DFAC1E"/>
<circle cx="1328.45" cy="1122.13" r="18.30" fill="#DFAC1E"/>
<circle cx="1328.45" cy="1170.96" r="18.30" fill="#DFAC1E"/>
<circle cx="1328.45" cy="1219.79" r="18.30" fill="#DFAC1E"/>
<circle cx="1328.45" cy="1268.62" r="18.30" fill="#DFAC1E"/>
<circle cx="1328.45" cy="1317.45" r="18.30" fill="#DFAC1E"/>
<circle cx="1328.45" cy="1366.28" r="18.30" fill="#DFAC1E"/>
<circle cx="1328.45" cy="1415.11" r="18.30" fill="#DFAC1E"/>
<circle cx="1377.28" cy="585.00" r="18.30" fill="#DFAC1E"/>
<circle cx="1377.28" cy="633.83" r="18.30" fill="#DFAC1E"/>
<circle cx="1377.28" cy="682.66" r="18.30" fill="#DFAC1E"/>
<circle cx="1377.28" cy="731.49" r="18.30" fill="#DFAC1E"/>
<circle cx="1377.28" cy="780.32" r="18.30" fill="#DFAC1E"/>
<circle cx="1377.28" cy="829.15" r="18.30" fill="#DFAC1E"/>
<circle cx="1377.28" cy="877.98" r="18.30" fill="#DFAC1E"/>
<circle cx="1377.28" cy="926.81" r="18.30" fill="#DFAC1E"/>
<circle cx="1377.28" cy="975.64" r="18.30" fill="#DFAC1E"/>
<circle cx="1377.28" cy="1024.47" r="18.30" fill="#DFAC1E"/>
<circle cx="1377.28" cy="1073.30" r="18.30" fill="#DFAC1E"/>
<circle cx="1377.28" cy="1122.13" r="18.30" fill="#DFAC1E"/>
<circle cx="1377.28" cy="1170.96" r="18.30" fill="#DFAC1E"/>
<circle cx="1377.28" cy="1219.79" r="18.30" fill="#DFAC1E"/>
<circle cx="1377.28" cy="1268.62" r="18.30" fill="#DFAC1E"/>
<circle cx="1377.28" cy="1317.45" r="18.30" fill="#DFAC1E"/>
<circle cx="1377.28" cy="1366.28" r="18.30" fill="#DFAC1E"/>
<circle cx="1377.28" cy="1415.11" r="18.30" fill="#DFAC1E"/>
<circle cx="1426.11" cy="585.00" r="18.30" fill="#DFAC1E"/>
<circle cx="1426.11" cy="633.83" r="18.30" fill="#DFAC1E"/>
<circle cx="1426.11" cy="682.66" r="18.30" fill="#DFAC1E"/>
<circle cx="1426.11" cy="731.49" r="18.30" fill="#DFAC1E"/>
<circle cx="1426.11" cy="780.32" r="18.30" fill="#DFAC1E"/>
<circle cx="1426.11" cy="829.15" r="18.30" fill="#DFAC1E"/>
<circle cx="1426.11" cy="877.98" r="18.30" fill="#DFAC1E"/>
<circle cx="1426.11" cy="926.81" r="18.30" fill="#DFAC1E"/>
<circle cx="1426.11" cy="975.64" r="18.30" fill="#DFAC1E"/>
<circle cx="1426.11" cy="1024.47" r="18.30" fill="#DFAC1E"/>
<circle cx="1426.11" cy="1073.30" r="18.30" fill="#DFAC1E"/>
<circle cx="1426.11" cy="1122.13" r="18.30" fill="#DFAC1E"/>
<circle cx="1426.11" cy="1170.96" r="18.30" fill="#DFAC1E"/>
<circle cx="1426.11" cy="1219.79" r="18.30" fill="#DFAC1E"/>
<circle cx="1426.11" cy="1268.62" r="18.30" fill="#DFAC1E"/>
<circle cx="1426.11" cy="1317.45" r="18.30" fill="#DFAC1E"/>
<circle cx="1426.11" cy="1366.28" r="18.30" fill="#DFAC1E"/>
<circle cx="1426.11" cy="1415.11" r="18.30" fill="#DFAC1E"/>
<circle cx="1474.94" cy="585.00" r="18.30" fill="#DFAC1E"/>
<circle cx="1474.94" cy="633.83" r="18.30" fill="#DFAC1E"/>
<circle cx="1474.94" cy="682.66" r="18.30" fill="#DFAC1E"/>
<circle cx="1474.94" cy="731.49" r="18.30" fill="#DFAC1E"/>
<circle cx="1474.94" cy="780.32" r="18.30" fill="#DFAC1E"/>
<circle cx="1474.94" cy="829.15" r="18.30" fill="#DFAC1E"/>
<circle cx="1474.94" cy="877.98" r="18.30" fill="#DFAC1E"/>
<circle cx="1474.94" cy="926.81" r="18.30" fill="#DFAC1E"/>
<circle cx="1474.94" cy="975.64" r="18.30" fill="#DFAC1E"/>
<circle cx="1474.94" cy="1024.47" r="18.30" fill="#DFAC1E"/>
<circle cx="1474.94" cy="1073.30" r="18.30" fill="#DFAC1E"/>
<circle cx="1474.94" cy="1122.13" r="18.30" fill="#DFAC1E"/>
<circle cx="1474.94" cy="1170.96" r="18.30" fill="#DFAC1E"/>
<circle cx="1474.94" cy="1219.79" r="18.30" fill="#DFAC1E"/>
<circle cx="1474.94" cy="1268.62" r="18.30" fill="#DFAC1E"/>
<circle cx="1474.94" cy="1317.45" r="18.30" fill="#DFAC1E"/>
<circle cx="1474.94" cy="1366.28" r="18.30" fill="#DFAC1E"/>
<circle cx="1474.94" cy="1415.11" r="18.30" fill="#DFAC1E"/>
<circle cx="1523.77" cy="585.00" r="18.30" fill="#DFAC1E"/>
<circle cx="1523.77" cy="633.83" r="18.30" fill="#DFAC1E"/>
<circle cx="1523.77" cy="682.66" r="18.30" fill="#DFAC1E"/>
<circle cx="1523.77" cy="731.49" r="18.30" fill="#DFAC1E"/>
<circle cx="1523.77" cy="780.32" r="18.30" fill="#DFAC1E"/>
<circle cx="1523.77" cy="829.15" r="18.30" fill="#DFAC1E"/>
<circle cx="1523.77" cy="877.98" r="18.30" fill="#DFAC1E"/>
<circle cx="1523.77" cy="926.81" r="18.30" fill="#DFAC1E"/>
<circle cx="1523.77" cy="975.64" r="18.30" fill="#DFAC1E"/>
<circle cx="1523.77" cy="1024.47" r="18.30" fill="#DFAC1E"/>
<circle cx="1523.77" cy="1073.30" r="18.30" fill="#DFAC1E"/>
<circle cx="1523.77" cy="1122.13" r="18.30" fill="#DFAC1E"/>
<circle cx="1523.77" cy="1170.96" r="18.30" fill="#DFAC1E"/>
<circle cx="1523.77" cy="1219.79" r="18.30" fill="#DFAC1E"/>
<circle cx="1523.77" cy="1268.62" r="18.30" fill="#DFAC1E"/>
<circle cx="1523.77" cy="1317.45" r="18.30" fill="#DFAC1E"/>
<circle cx="1523.77" cy="1366.28" r="18.30" fill="#DFAC1E"/>
<circle cx="1523.77" cy="1415.11" r="18.30" fill="#DFAC1E"/>
<circle cx="1607.30" cy="633.83" r="18.30" fill="#DFAC1E"/>
<circle cx="1607.30" cy="682.66" r="18.30" fill="#DFAC1E"/>
<circle cx="1607.30" cy="731.49" r="18.30" fill="#DFAC1E"/>
<circle cx="1607.30" cy="780.32" r="18.30" fill="#DFAC1E"/>
<circle cx="1607.30" cy="829.15" r="18.30" fill="#DFAC1E"/>
<circle cx="1607.30" cy="877.98" r="18.30" fill="#DFAC1E"/>
<circle cx="1607.30" cy="926.81" r="18.30" fill="#DFAC1E"/>
<circle cx="1607.30" cy="975.64" r="18.30" fill="#DFAC1E"/>
<circle cx="1607.30" cy="1024.47" r="18.30" fill="#DFAC1E"/>
<circle cx="1607.30" cy="1073.30" r="18.30" fill="#DFAC1E"/>
<circle cx="1607.30" cy="1122.13" r="18.30" fill="#DFAC1E"/>
<circle cx="1607.30" cy="1170.96" r="18.30" fill="#DFAC1E"/>
<circle cx="1607.30" cy="1219.79" r="18.30" fill="#DFAC1E"/>
<circle cx="1607.30" cy="1268.62" r="18.30" fill="#DFAC1E"/>
<circle cx="1607.30" cy="1317.45" r="18.30" fill="#DFAC1E"/>
<circle cx="1607.30" cy="1366.28" r="18.30" fill="#DFAC1E"/>
<circle cx="191.00" cy="558.00" r="18.90" fill="#DFAC1E"/>
<circle cx="532.60" cy="558.00" r="18.90" fill="#DFAC1E"/>
<circle cx="191.00" cy="606.83" r="18.90" fill="#DFAC1E"/>
<circle cx="532.60" cy="606.83" r="18.90" fill="#DFAC1E"/>
<circle cx="191.00" cy="655.66" r="18.90" fill="#DFAC1E"/>
<circle cx="532.60" cy="655.66" r="18.90" fill="#DFAC1E"/>
<circle cx="191.00" cy="704.49" r="18.90" fill="#DFAC1E"/>
<circle cx="532.60" cy="704.49" r="18.90" fill="#DFAC1E"/>
<circle cx="191.00" cy="753.32" r="18.90" fill="#DFAC1E"/>
<circle cx="532.60" cy="753.32" r="18.90" fill="#DFAC1E"/>
<circle cx="191.00" cy="802.15" r="18.90" fill="#DFAC1E"/>
<circle cx="532.60" cy="802.15" r="18.90" fill="#DFAC1E"/>
<circle cx="191.00" cy="850.98" r="18.90" fill="#DFAC1E"/>
<circle cx="532.60" cy="850.98" r="18.90" fill="#DFAC1E"/>
<circle cx="191.00" cy="899.81" r="18.90" fill="#DFAC1E"/>
<circle cx="532.60" cy="899.81" r="18.90" fill="#DFAC1E"/>
<circle cx="191.00" cy="948.64" r="18.90" fill="#DFAC1E"/>
<circle cx="532.60" cy="948.64" r="18.90" fill="#DFAC1E"/>
<circle cx="191.00" cy="997.47" r="18.90" fill="#DFAC1E"/>
<circle cx="532.60" cy="997.47" r="18.90" fill="#DFAC1E"/>
<circle cx="191.00" cy="1046.30" r="18.90" fill="#DFAC1E"/>
<circle cx="532.60" cy="1046.30" r="18.90" fill="#DFAC1E"/>
<circle cx="191.00" cy="1095.13" r="18.90" fill="#DFAC1E"/>
<circle cx="532.60" cy="1095.13" r="18.90" fill="#DFAC1E"/>
<circle cx="191.00" cy="1143.96" r="18.90" fill="#DFAC1E"/>
<circle cx="532.60" cy="1143.96" r="18.90" fill="#DFAC1E"/>
<circle cx="191.00" cy="1192.79" r="18.90" fill="#DFAC1E"/>
<circle cx="532.60" cy="1192.79" r="18.90" fill="#DFAC1E"/>
<circle cx="191.00" cy="1241.62" r="18.90" fill="#DFAC1E"/>
<circle cx="532.60" cy="1241.62" r="18.90" fill="#DFAC1E"/>
<circle cx="191.00" cy="1290.45" r="18.90" fill="#DFAC1E"/>
<circle cx="532.60" cy="1290.45" r="18.90" fill="#DFAC1E"/>
<circle cx="191.00" cy="1339.28" r="18.90" fill="#DFAC1E"/>
<circle cx="532.60" cy="1339.28" r="18.90" fill="#DFAC1E"/>
<circle cx="191.00" cy="1388.11" r="18.90" fill="#DFAC1E"/>
<circle cx="532.60" cy="1388.11" r="18.90" fill="#DFAC1E"/>
<circle cx="191.00" cy="1436.94" r="18.90" fill="#DFAC1E"/>
<circle cx="532.60" cy="1436.94" r="18.90" fill="#DFAC1E"/>
<circle cx="191.00" cy="1485.77" r="18.90" fill="#DFAC1E"/>
<circle cx="532.60" cy="1485.77" r="18.90" fill="#DFAC1E"/>
<circle cx="105.50" cy="1205.00" r="24.20" fill="#DFAC1E"/>
<circle cx="105.50" cy="1329.00" r="24.20" fill="#DFAC1E"/>
<line x1="596.00" y1="633.83" x2="596.00" y2="731.49" stroke="#DFAC1E" stroke-width="10.2"/>
<line x1="644.83" y1="633.83" x2="644.83" y2="731.49" stroke="#DFAC1E" stroke-width="10.2"/>
<line x1="693.66" y1="633.83" x2="693.66" y2="731.49" stroke="#DFAC1E" stroke-width="10.2"/>
<line x1="742.49" y1="633.83" x2="742.49" y2="731.49" stroke="#DFAC1E" stroke-width="10.2"/>
<line x1="791.32" y1="633.83" x2="791.32" y2="731.49" stroke="#DFAC1E" stroke-width="10.2"/>
<line x1="840.15" y1="633.83" x2="840.15" y2="731.49" stroke="#DFAC1E" stroke-width="10.2"/>
<line x1="888.98" y1="633.83" x2="888.98" y2="731.49" stroke="#DFAC1E" stroke-width="10.2"/>
<line x1="937.81" y1="633.83" x2="937.81" y2="731.49" stroke="#DFAC1E" stroke-width="10.2"/>
<line x1="986.64" y1="633.83" x2="986.64" y2="731.49" stroke="#DFAC1E" stroke-width="10.2"/>
<line x1="1035.47" y1="633.83" x2="1035.47" y2="731.49" stroke="#DFAC1E" stroke-width="10.2"/>
<line x1="1084.30" y1="633.83" x2="1084.30" y2="731.49" stroke="#DFAC1E" stroke-width="10.2"/>
<line x1="1133.13" y1="633.83" x2="1133.13" y2="731.49" stroke="#DFAC1E" stroke-width="10.2"/>
<line x1="1181.96" y1="633.83" x2="1181.96" y2="731.49" stroke="#DFAC1E" stroke-width="10.2"/>
<line x1="1230.79" y1="633.83" x2="1230.79" y2="731.49" stroke="#DFAC1E" stroke-width="10.2"/>
<line x1="1279.62" y1="633.83" x2="1279.62" y2="731.49" stroke="#DFAC1E" stroke-width="10.2"/>
<line x1="1328.45" y1="633.83" x2="1328.45" y2="731.49" stroke="#DFAC1E" stroke-width="10.2"/>
<line x1="1377.28" y1="633.83" x2="1377.28" y2="731.49" stroke="#DFAC1E" stroke-width="10.2"/>
<line x1="1426.11" y1="633.83" x2="1426.11" y2="731.49" stroke="#DFAC1E" stroke-width="10.2"/>
<line x1="1474.94" y1="633.83" x2="1474.94" y2="731.49" stroke="#DFAC1E" stroke-width="10.2"/>
<line x1="1523.77" y1="633.83" x2="1523.77" y2="731.49" stroke="#DFAC1E" stroke-width="10.2"/>
<line x1="596.00" y1="877.98" x2="596.00" y2="975.64" stroke="#DFAC1E" stroke-width="10.2"/>
<line x1="644.83" y1="877.98" x2="644.83" y2="975.64" stroke="#DFAC1E" stroke-width="10.2"/>
<line x1="693.66" y1="877.98" x2="693.66" y2="975.64" stroke="#DFAC1E" stroke-width="10.2"/>
<line x1="742.49" y1="877.98" x2="742.49" y2="975.64" stroke="#DFAC1E" stroke-width="10.2"/>
<line x1="791.32" y1="877.98" x2="791.32" y2="975.64" stroke="#DFAC1E" stroke-width="10.2"/>
<line x1="840.15" y1="877.98" x2="840.15" y2="975.64" stroke="#DFAC1E" stroke-width="10.2"/>
<line x1="888.98" y1="877.98" x2="888.98" y2="975.64" stroke="#DFAC1E" stroke-width="10.2"/>
<line x1="937.81" y1="877.98" x2="937.81" y2="975.64" stroke="#DFAC1E" stroke-width="10.2"/>
<line x1="986.64" y1="877.98" x2="986.64" y2="975.64" stroke="#DFAC1E" stroke-width="10.2"/>
<line x1="1035.47" y1="877.98" x2="1035.47" y2="975.64" stroke="#DFAC1E" stroke-width="10.2"/>
<line x1="1084.30" y1="877.98" x2="1084.30" y2="975.64" stroke="#DFAC1E" stroke-width="10.2"/>
<line x1="1133.13" y1="877.98" x2="1133.13" y2="975.64" stroke="#DFAC1E" stroke-width="10.2"/>
<line x1="1181.96" y1="877.98" x2="1181.96" y2="975.64" stroke="#DFAC1E" stroke-width="10.2"/>
<line x1="1230.79" y1="877.98" x2="1230.79" y2="975.64" stroke="#DFAC1E" stroke-width="10.2"/>
<line x1="1279.62" y1="877.98" x2="1279.62" y2="975.64" stroke="#DFAC1E" stroke-width="10.2"/>
<line x1="1328.45" y1="877.98" x2="1328.45" y2="975.64" stroke="#DFAC1E" stroke-width="10.2"/>
<line x1="1377.28" y1="877.98" x2="1377.28" y2="975.64" stroke="#DFAC1E" stroke-width="10.2"/>
<line x1="1426.11" y1="877.98" x2="1426.11" y2="975.64" stroke="#DFAC1E" stroke-width="10.2"/>
<line x1="1474.94" y1="877.98" x2="1474.94" y2="975.64" stroke="#DFAC1E" stroke-width="10.2"/>
<line x1="1523.77" y1="877.98" x2="1523.77" y2="975.64" stroke="#DFAC1E" stroke-width="10.2"/>
<line x1="596.00" y1="1024.47" x2="596.00" y2="1122.13" stroke="#DFAC1E" stroke-width="10.2"/>
<line x1="644.83" y1="1024.47" x2="644.83" y2="1122.13" stroke="#DFAC1E" stroke-width="10.2"/>
<line x1="693.66" y1="1024.47" x2="693.66" y2="1122.13" stroke="#DFAC1E" stroke-width="10.2"/>
<line x1="742.49" y1="1024.47" x2="742.49" y2="1122.13" stroke="#DFAC1E" stroke-width="10.2"/>
<line x1="791.32" y1="1024.47" x2="791.32" y2="1122.13" stroke="#DFAC1E" stroke-width="10.2"/>
<line x1="840.15" y1="1024.47" x2="840.15" y2="1122.13" stroke="#DFAC1E" stroke-width="10.2"/>
<line x1="888.98" y1="1024.47" x2="888.98" y2="1122.13" stroke="#DFAC1E" stroke-width="10.2"/>
<line x1="937.81" y1="1024.47" x2="937.81" y2="1122.13" stroke="#DFAC1E" stroke-width="10.2"/>
<line x1="986.64" y1="1024.47" x2="986.64" y2="1122.13" stroke="#DFAC1E" stroke-width="10.2"/>
<line x1="1035.47" y1="1024.47" x2="1035.47" y2="1122.13" stroke="#DFAC1E" stroke-width="10.2"/>
<line x1="1084.30" y1="1024.47" x2="1084.30" y2="1122.13" stroke="#DFAC1E" stroke-width="10.2"/>
<line x1="1133.13" y1="1024.47" x2="1133.13" y2="1122.13" stroke="#DFAC1E" stroke-width="10.2"/>
<line x1="1181.96" y1="1024.47" x2="1181.96" y2="1122.13" stroke="#DFAC1E" stroke-width="10.2"/>
<line x1="1230.79" y1="1024.47" x2="1230.79" y2="1122.13" stroke="#DFAC1E" stroke-width="10.2"/>
<line x1="1279.62" y1="1024.47" x2="1279.62" y2="1122.13" stroke="#DFAC1E" stroke-width="10.2"/>
<line x1="1328.45" y1="1024.47" x2="1328.45" y2="1122.13" stroke="#DFAC1E" stroke-width="10.2"/>
<line x1="1377.28" y1="1024.47" x2="1377.28" y2="1122.13" stroke="#DFAC1E" stroke-width="10.2"/>
<line x1="1426.11" y1="1024.47" x2="1426.11" y2="1122.13" stroke="#DFAC1E" stroke-width="10.2"/>
<line x1="1474.94" y1="1024.47" x2="1474.94" y2="1122.13" stroke="#DFAC1E" stroke-width="10.2"/>
<line x1="1523.77" y1="1024.47" x2="1523.77" y2="1122.13" stroke="#DFAC1E" stroke-width="10.2"/>
<line x1="596.00" y1="1268.62" x2="596.00" y2="1366.28" stroke="#DFAC1E" stroke-width="10.2"/>
<line x1="644.83" y1="1268.62" x2="644.83" y2="1366.28" stroke="#DFAC1E" stroke-width="10.2"/>
<line x1="693.66" y1="1268.62" x2="693.66" y2="1366.28" stroke="#DFAC1E" stroke-width="10.2"/>
<line x1="742.49" y1="1268.62" x2="742.49" y2="1366.28" stroke="#DFAC1E" stroke-width="10.2"/>
<line x1="791.32" y1="1268.62" x2="791.32" y2="1366.28" stroke="#DFAC1E" stroke-width="10.2"/>
<line x1="840.15" y1="1268.62" x2="840.15" y2="1366.28" stroke="#DFAC1E" stroke-width="10.2"/>
<line x1="888.98" y1="1268.62" x2="888.98" y2="1366.28" stroke="#DFAC1E" stroke-width="10.2"/>
<line x1="937.81" y1="1268.62" x2="937.81" y2="1366.28" stroke="#DFAC1E" stroke-width="10.2"/>
<line x1="986.64" y1="1268.62" x2="986.64" y2="1366.28" stroke="#DFAC1E" stroke-width="10.2"/>
<line x1="1035.47" y1="1268.62" x2="1035.47" y2="1366.28" stroke="#DFAC1E" stroke-width="10.2"/>
<line x1="1084.30" y1="1268.62" x2="1084.30" y2="1366.28" stroke="#DFAC1E" stroke-width="10.2"/>
<line x1="1133.13" y1="1268.62" x2="1133.13" y2="1366.28" stroke="#DFAC1E" stroke-width="10.2"/>
<line x1="1181.96" y1="1268.62" x2="1181.96" y2="1366.28" stroke="#DFAC1E" stroke-width="10.2"/>
<line x1="1230.79" y1="1268.62" x2="1230.79" y2="1366.28" stroke="#DFAC1E" stroke-width="10.2"/>
<line x1="1279.62" y1="1268.62" x2="1279.62" y2="1366.28" stroke="#DFAC1E" stroke-width="10.2"/>
<line x1="1328.45" y1="1268.62" x2="1328.45" y2="1366.28" stroke="#DFAC1E" stroke-width="10.2"/>
<line x1="1377.28" y1="1268.62" x2="1377.28" y2="1366.28" stroke="#DFAC1E" stroke-width="10.2"/>
<line x1="1426.11" y1="1268.62" x2="1426.11" y2="1366.28" stroke="#DFAC1E" stroke-width="10.2"/>
<line x1="1474.94" y1="1268.62" x2="1474.94" y2="1366.28" stroke="#DFAC1E" stroke-width="10.2"/>
<line x1="1523.77" y1="1268.62" x2="1523.77" y2="1366.28" stroke="#DFAC1E" stroke-width="10.2"/>
<line x1="596.00" y1="780.32" x2="1035.47" y2="780.32" stroke="#DFAC1E" stroke-width="10.2"/>
<line x1="1084.30" y1="780.32" x2="1523.77" y2="780.32" stroke="#DFAC1E" stroke-width="10.2"/>
<line x1="596.00" y1="829.15" x2="1035.47" y2="829.15" stroke="#DFAC1E" stroke-width="10.2"/>
<line x1="1084.30" y1="829.15" x2="1523.77" y2="829.15" stroke="#DFAC1E" stroke-width="10.2"/>
<line x1="596.00" y1="1170.96" x2="1035.47" y2="1170.96" stroke="#DFAC1E" stroke-width="10.2"/>
<line x1="1084.30" y1="1170.96" x2="1523.77" y2="1170.96" stroke="#DFAC1E" stroke-width="10.2"/>
<line x1="596.00" y1="1219.79" x2="1035.47" y2="1219.79" stroke="#DFAC1E" stroke-width="10.2"/>
<line x1="1084.30" y1="1219.79" x2="1523.77" y2="1219.79" stroke="#DFAC1E" stroke-width="10.2"/>
<line x1="1607.30" y1="633.83" x2="1607.30" y2="975.64" stroke="#DFAC1E" stroke-width="10.2"/>
<line x1="1607.30" y1="1024.47" x2="1607.30" y2="1366.28" stroke="#DFAC1E" stroke-width="10.2"/>
<circle cx="107.5" cy="519" r="48.7" fill="#DFAC1E"/>
<circle cx="1602.5" cy="519" r="48.7" fill="#DFAC1E"/>
<circle cx="107.5" cy="1478.5" r="48.7" fill="#DFAC1E"/>
<circle cx="1602.5" cy="1478.5" r="48.7" fill="#DFAC1E"/>
<circle cx="596.00" cy="585.00" r="10.60" fill="#fff"/>
<circle cx="596.00" cy="633.83" r="10.60" fill="#fff"/>
<circle cx="596.00" cy="682.66" r="10.60" fill="#fff"/>
<circle cx="596.00" cy="731.49" r="10.60" fill="#fff"/>
<circle cx="596.00" cy="780.32" r="10.60" fill="#fff"/>
<circle cx="596.00" cy="829.15" r="10.60" fill="#fff"/>
<circle cx="596.00" cy="877.98" r="10.60" fill="#fff"/>
<circle cx="596.00" cy="926.81" r="10.60" fill="#fff"/>
<circle cx="596.00" cy="975.64" r="10.60" fill="#fff"/>
<circle cx="596.00" cy="1024.47" r="10.60" fill="#fff"/>
<circle cx="596.00" cy="1073.30" r="10.60" fill="#fff"/>
<circle cx="596.00" cy="1122.13" r="10.60" fill="#fff"/>
<circle cx="596.00" cy="1170.96" r="10.60" fill="#fff"/>
<circle cx="596.00" cy="1219.79" r="10.60" fill="#fff"/>
<circle cx="596.00" cy="1268.62" r="10.60" fill="#fff"/>
<circle cx="596.00" cy="1317.45" r="10.60" fill="#fff"/>
<circle cx="596.00" cy="1366.28" r="10.60" fill="#fff"/>
<circle cx="596.00" cy="1415.11" r="10.60" fill="#fff"/>
<circle cx="644.83" cy="585.00" r="10.60" fill="#fff"/>
<circle cx="644.83" cy="633.83" r="10.60" fill="#fff"/>
<circle cx="644.83" cy="682.66" r="10.60" fill="#fff"/>
<circle cx="644.83" cy="731.49" r="10.60" fill="#fff"/>
<circle cx="644.83" cy="780.32" r="10.60" fill="#fff"/>
<circle cx="644.83" cy="829.15" r="10.60" fill="#fff"/>
<circle cx="644.83" cy="877.98" r="10.60" fill="#fff"/>
<circle cx="644.83" cy="926.81" r="10.60" fill="#fff"/>
<circle cx="644.83" cy="975.64" r="10.60" fill="#fff"/>
<circle cx="644.83" cy="1024.47" r="10.60" fill="#fff"/>
<circle cx="644.83" cy="1073.30" r="10.60" fill="#fff"/>
<circle cx="644.83" cy="1122.13" r="10.60" fill="#fff"/>
<circle cx="644.83" cy="1170.96" r="10.60" fill="#fff"/>
<circle cx="644.83" cy="1219.79" r="10.60" fill="#fff"/>
<circle cx="644.83" cy="1268.62" r="10.60" fill="#fff"/>
<circle cx="644.83" cy="1317.45" r="10.60" fill="#fff"/>
<circle cx="644.83" cy="1366.28" r="10.60" fill="#fff"/>
<circle cx="644.83" cy="1415.11" r="10.60" fill="#fff"/>
<circle cx="693.66" cy="585.00" r="10.60" fill="#fff"/>
<circle cx="693.66" cy="633.83" r="10.60" fill="#fff"/>
<circle cx="693.66" cy="682.66" r="10.60" fill="#fff"/>
<circle cx="693.66" cy="731.49" r="10.60" fill="#fff"/>
<circle cx="693.66" cy="780.32" r="10.60" fill="#fff"/>
<circle cx="693.66" cy="829.15" r="10.60" fill="#fff"/>
<circle cx="693.66" cy="877.98" r="10.60" fill="#fff"/>
<circle cx="693.66" cy="926.81" r="10.60" fill="#fff"/>
<circle cx="693.66" cy="975.64" r="10.60" fill="#fff"/>
<circle cx="693.66" cy="1024.47" r="10.60" fill="#fff"/>
<circle cx="693.66" cy="1073.30" r="10.60" fill="#fff"/>
<circle cx="693.66" cy="1122.13" r="10.60" fill="#fff"/>
<circle cx="693.66" cy="1170.96" r="10.60" fill="#fff"/>
<circle cx="693.66" cy="1219.79" r="10.60" fill="#fff"/>
<circle cx="693.66" cy="1268.62" r="10.60" fill="#fff"/>
<circle cx="693.66" cy="1317.45" r="10.60" fill="#fff"/>
<circle cx="693.66" cy="1366.28" r="10.60" fill="#fff"/>
<circle cx="693.66" cy="1415.11" r="10.60" fill="#fff"/>
<circle cx="742.49" cy="585.00" r="10.60" fill="#fff"/>
<circle cx="742.49" cy="633.83" r="10.60" fill="#fff"/>
<circle cx="742.49" cy="682.66" r="10.60" fill="#fff"/>
<circle cx="742.49" cy="731.49" r="10.60" fill="#fff"/>
<circle cx="742.49" cy="780.32" r="10.60" fill="#fff"/>
<circle cx="742.49" cy="829.15" r="10.60" fill="#fff"/>
<circle cx="742.49" cy="877.98" r="10.60" fill="#fff"/>
<circle cx="742.49" cy="926.81" r="10.60" fill="#fff"/>
<circle cx="742.49" cy="975.64" r="10.60" fill="#fff"/>
<circle cx="742.49" cy="1024.47" r="10.60" fill="#fff"/>
<circle cx="742.49" cy="1073.30" r="10.60" fill="#fff"/>
<circle cx="742.49" cy="1122.13" r="10.60" fill="#fff"/>
<circle cx="742.49" cy="1170.96" r="10.60" fill="#fff"/>
<circle cx="742.49" cy="1219.79" r="10.60" fill="#fff"/>
<circle cx="742.49" cy="1268.62" r="10.60" fill="#fff"/>
<circle cx="742.49" cy="1317.45" r="10.60" fill="#fff"/>
<circle cx="742.49" cy="1366.28" r="10.60" fill="#fff"/>
<circle cx="742.49" cy="1415.11" r="10.60" fill="#fff"/>
<circle cx="791.32" cy="585.00" r="10.60" fill="#fff"/>
<circle cx="791.32" cy="633.83" r="10.60" fill="#fff"/>
<circle cx="791.32" cy="682.66" r="10.60" fill="#fff"/>
<circle cx="791.32" cy="731.49" r="10.60" fill="#fff"/>
<circle cx="791.32" cy="780.32" r="10.60" fill="#fff"/>
<circle cx="791.32" cy="829.15" r="10.60" fill="#fff"/>
<circle cx="791.32" cy="877.98" r="10.60" fill="#fff"/>
<circle cx="791.32" cy="926.81" r="10.60" fill="#fff"/>
<circle cx="791.32" cy="975.64" r="10.60" fill="#fff"/>
<circle cx="791.32" cy="1024.47" r="10.60" fill="#fff"/>
<circle cx="791.32" cy="1073.30" r="10.60" fill="#fff"/>
<circle cx="791.32" cy="1122.13" r="10.60" fill="#fff"/>
<circle cx="791.32" cy="1170.96" r="10.60" fill="#fff"/>
<circle cx="791.32" cy="1219.79" r="10.60" fill="#fff"/>
<circle cx="791.32" cy="1268.62" r="10.60" fill="#fff"/>
<circle cx="791.32" cy="1317.45" r="10.60" fill="#fff"/>
<circle cx="791.32" cy="1366.28" r="10.60" fill="#fff"/>
<circle cx="791.32" cy="1415.11" r="10.60" fill="#fff"/>
<circle cx="840.15" cy="585.00" r="10.60" fill="#fff"/>
<circle cx="840.15" cy="633.83" r="10.60" fill="#fff"/>
<circle cx="840.15" cy="682.66" r="10.60" fill="#fff"/>
<circle cx="840.15" cy="731.49" r="10.60" fill="#fff"/>
<circle cx="840.15" cy="780.32" r="10.60" fill="#fff"/>
<circle cx="840.15" cy="829.15" r="10.60" fill="#fff"/>
<circle cx="840.15" cy="877.98" r="10.60" fill="#fff"/>
<circle cx="840.15" cy="926.81" r="10.60" fill="#fff"/>
<circle cx="840.15" cy="975.64" r="10.60" fill="#fff"/>
<circle cx="840.15" cy="1024.47" r="10.60" fill="#fff"/>
<circle cx="840.15" cy="1073.30" r="10.60" fill="#fff"/>
<circle cx="840.15" cy="1122.13" r="10.60" fill="#fff"/>
<circle cx="840.15" cy="1170.96" r="10.60" fill="#fff"/>
<circle cx="840.15" cy="1219.79" r="10.60" fill="#fff"/>
<circle cx="840.15" cy="1268.62" r="10.60" fill="#fff"/>
<circle cx="840.15" cy="1317.45" r="10.60" fill="#fff"/>
<circle cx="840.15" cy="1366.28" r="10.60" fill="#fff"/>
<circle cx="840.15" cy="1415.11" r="10.60" fill="#fff"/>
<circle cx="888.98" cy="585.00" r="10.60" fill="#fff"/>
<circle cx="888.98" cy="633.83" r="10.60" fill="#fff"/>
<circle cx="888.98" cy="682.66" r="10.60" fill="#fff"/>
<circle cx="888.98" cy="731.49" r="10.60" fill="#fff"/>
<circle cx="888.98" cy="780.32" r="10.60" fill="#fff"/>
<circle cx="888.98" cy="829.15" r="10.60" fill="#fff"/>
<circle cx="888.98" cy="877.98" r="10.60" fill="#fff"/>
<circle cx="888.98" cy="926.81" r="10.60" fill="#fff"/>
<circle cx="888.98" cy="975.64" r="10.60" fill="#fff"/>
<circle cx="888.98" cy="1024.47" r="10.60" fill="#fff"/>
<circle cx="888.98" cy="1073.30" r="10.60" fill="#fff"/>
<circle cx="888.98" cy="1122.13" r="10.60" fill="#fff"/>
<circle cx="888.98" cy="1170.96" r="10.60" fill="#fff"/>
<circle cx="888.98" cy="1219.79" r="10.60" fill="#fff"/>
<circle cx="888.98" cy="1268.62" r="10.60" fill="#fff"/>
<circle cx="888.98" cy="1317.45" r="10.60" fill="#fff"/>
<circle cx="888.98" cy="1366.28" r="10.60" fill="#fff"/>
<circle cx="888.98" cy="1415.11" r="10.60" fill="#fff"/>
<circle cx="937.81" cy="585.00" r="10.60" fill="#fff"/>
<circle cx="937.81" cy="633.83" r="10.60" fill="#fff"/>
<circle cx="937.81" cy="682.66" r="10.60" fill="#fff"/>
<circle cx="937.81" cy="731.49" r="10.60" fill="#fff"/>
<circle cx="937.81" cy="780.32" r="10.60" fill="#fff"/>
<circle cx="937.81" cy="829.15" r="10.60" fill="#fff"/>
<circle cx="937.81" cy="877.98" r="10.60" fill="#fff"/>
<circle cx="937.81" cy="926.81" r="10.60" fill="#fff"/>
<circle cx="937.81" cy="975.64" r="10.60" fill="#fff"/>
<circle cx="937.81" cy="1024.47" r="10.60" fill="#fff"/>
<circle cx="937.81" cy="1073.30" r="10.60" fill="#fff"/>
<circle cx="937.81" cy="1122.13" r="10.60" fill="#fff"/>
<circle cx="937.81" cy="1170.96" r="10.60" fill="#fff"/>
<circle cx="937.81" cy="1219.79" r="10.60" fill="#fff"/>
<circle cx="937.81" cy="1268.62" r="10.60" fill="#fff"/>
<circle cx="937.81" cy="1317.45" r="10.60" fill="#fff"/>
<circle cx="937.81" cy="1366.28" r="10.60" fill="#fff"/>
<circle cx="937.81" cy="1415.11" r="10.60" fill="#fff"/>
<circle cx="986.64" cy="585.00" r="10.60" fill="#fff"/>
<circle cx="986.64" cy="633.83" r="10.60" fill="#fff"/>
<circle cx="986.64" cy="682.66" r="10.60" fill="#fff"/>
<circle cx="986.64" cy="731.49" r="10.60" fill="#fff"/>
<circle cx="986.64" cy="780.32" r="10.60" fill="#fff"/>
<circle cx="986.64" cy="829.15" r="10.60" fill="#fff"/>
<circle cx="986.64" cy="877.98" r="10.60" fill="#fff"/>
<circle cx="986.64" cy="926.81" r="10.60" fill="#fff"/>
<circle cx="986.64" cy="975.64" r="10.60" fill="#fff"/>
<circle cx="986.64" cy="1024.47" r="10.60" fill="#fff"/>
<circle cx="986.64" cy="1073.30" r="10.60" fill="#fff"/>
<circle cx="986.64" cy="1122.13" r="10.60" fill="#fff"/>
<circle cx="986.64" cy="1170.96" r="10.60" fill="#fff"/>
<circle cx="986.64" cy="1219.79" r="10.60" fill="#fff"/>
<circle cx="986.64" cy="1268.62" r="10.60" fill="#fff"/>
<circle cx="986.64" cy="1317.45" r="10.60" fill="#fff"/>
<circle cx="986.64" cy="1366.28" r="10.60" fill="#fff"/>
<circle cx="986.64" cy="1415.11" r="10.60" fill="#fff"/>
<circle cx="1035.47" cy="585.00" r="10.60" fill="#fff"/>
<circle cx="1035.47" cy="633.83" r="10.60" fill="#fff"/>
<circle cx="1035.47" cy="682.66" r="10.60" fill="#fff"/>
<circle cx="1035.47" cy="731.49" r="10.60" fill="#fff"/>
<circle cx="1035.47" cy="780.32" r="10.60" fill="#fff"/>
<circle cx="1035.47" cy="829.15" r="10.60" fill="#fff"/>
<circle cx="1035.47" cy="877.98" r="10.60" fill="#fff"/>
<circle cx="1035.47" cy="926.81" r="10.60" fill="#fff"/>
<circle cx="1035.47" cy="975.64" r="10.60" fill="#fff"/>
<circle cx="1035.47" cy="1024.47" r="10.60" fill="#fff"/>
<circle cx="1035.47" cy="1073.30" r="10.60" fill="#fff"/>
<circle cx="1035.47" cy="1122.13" r="10.60" fill="#fff"/>
<circle cx="1035.47" cy="1170.96" r="10.60" fill="#fff"/>
<circle cx="1035.47" cy="1219.79" r="10.60" fill="#fff"/>
<circle cx="1035.47" cy="1268.62" r="10.60" fill="#fff"/>
<circle cx="1035.47" cy="1317.45" r="10.60" fill="#fff"/>
<circle cx="1035.47" cy="1366.28" r="10.60" fill="#fff"/>
<circle cx="1035.47" cy="1415.11" r="10.60" fill="#fff"/>
<circle cx="1084.30" cy="585.00" r="10.60" fill="#fff"/>
<circle cx="1084.30" cy="633.83" r="10.60" fill="#fff"/>
<circle cx="1084.30" cy="682.66" r="10.60" fill="#fff"/>
<circle cx="1084.30" cy="731.49" r="10.60" fill="#fff"/>
<circle cx="1084.30" cy="780.32" r="10.60" fill="#fff"/>
<circle cx="1084.30" cy="829.15" r="10.60" fill="#fff"/>
<circle cx="1084.30" cy="877.98" r="10.60" fill="#fff"/>
<circle cx="1084.30" cy="926.81" r="10.60" fill="#fff"/>
<circle cx="1084.30" cy="975.64" r="10.60" fill="#fff"/>
<circle cx="1084.30" cy="1024.47" r="10.60" fill="#fff"/>
<circle cx="1084.30" cy="1073.30" r="10.60" fill="#fff"/>
<circle cx="1084.30" cy="1122.13" r="10.60" fill="#fff"/>
<circle cx="1084.30" cy="1170.96" r="10.60" fill="#fff"/>
<circle cx="1084.30" cy="1219.79" r="10.60" fill="#fff"/>
<circle cx="1084.30" cy="1268.62" r="10.60" fill="#fff"/>
<circle cx="1084.30" cy="1317.45" r="10.60" fill="#fff"/>
<circle cx="1084.30" cy="1366.28" r="10.60" fill="#fff"/>
<circle cx="1084.30" cy="1415.11" r="10.60" fill="#fff"/>
<circle cx="1133.13" cy="585.00" r="10.60" fill="#fff"/>
<circle cx="1133.13" cy="633.83" r="10.60" fill="#fff"/>
<circle cx="1133.13" cy="682.66" r="10.60" fill="#fff"/>
<circle cx="1133.13" cy="731.49" r="10.60" fill="#fff"/>
<circle cx="1133.13" cy="780.32" r="10.60" fill="#fff"/>
<circle cx="1133.13" cy="829.15" r="10.60" fill="#fff"/>
<circle cx="1133.13" cy="877.98" r="10.60" fill="#fff"/>
<circle cx="1133.13" cy="926.81" r="10.60" fill="#fff"/>
<circle cx="1133.13" cy="975.64" r="10.60" fill="#fff"/>
<circle cx="1133.13" cy="1024.47" r="10.60" fill="#fff"/>
<circle cx="1133.13" cy="1073.30" r="10.60" fill="#fff"/>
<circle cx="1133.13" cy="1122.13" r="10.60" fill="#fff"/>
<circle cx="1133.13" cy="1170.96" r="10.60" fill="#fff"/>
<circle cx="1133.13" cy="1219.79" r="10.60" fill="#fff"/>
<circle cx="1133.13" cy="1268.62" r="10.60" fill="#fff"/>
<circle cx="1133.13" cy="1317.45" r="10.60" fill="#fff"/>
<circle cx="1133.13" cy="1366.28" r="10.60" fill="#fff"/>
<circle cx="1133.13" cy="1415.11" r="10.60" fill="#fff"/>
<circle cx="1181.96" cy="585.00" r="10.60" fill="#fff"/>
<circle cx="1181.96" cy="633.83" r="10.60" fill="#fff"/>
<circle cx="1181.96" cy="682.66" r="10.60" fill="#fff"/>
<circle cx="1181.96" cy="731.49" r="10.60" fill="#fff"/>
<circle cx="1181.96" cy="780.32" r="10.60" fill="#fff"/>
<circle cx="1181.96" cy="829.15" r="10.60" fill="#fff"/>
<circle cx="1181.96" cy="877.98" r="10.60" fill="#fff"/>
<circle cx="1181.96" cy="926.81" r="10.60" fill="#fff"/>
<circle cx="1181.96" cy="975.64" r="10.60" fill="#fff"/>
<circle cx="1181.96" cy="1024.47" r="10.60" fill="#fff"/>
<circle cx="1181.96" cy="1073.30" r="10.60" fill="#fff"/>
<circle cx="1181.96" cy="1122.13" r="10.60" fill="#fff"/>
<circle cx="1181.96" cy="1170.96" r="10.60" fill="#fff"/>
<circle cx="1181.96" cy="1219.79" r="10.60" fill="#fff"/>
<circle cx="1181.96" cy="1268.62" r="10.60" fill="#fff"/>
<circle cx="1181.96" cy="1317.45" r="10.60" fill="#fff"/>
<circle cx="1181.96" cy="1366.28" r="10.60" fill="#fff"/>
<circle cx="1181.96" cy="1415.11" r="10.60" fill="#fff"/>
<circle cx="1230.79" cy="585.00" r="10.60" fill="#fff"/>
<circle cx="1230.79" cy="633.83" r="10.60" fill="#fff"/>
<circle cx="1230.79" cy="682.66" r="10.60" fill="#fff"/>
<circle cx="1230.79" cy="731.49" r="10.60" fill="#fff"/>
<circle cx="1230.79" cy="780.32" r="10.60" fill="#fff"/>
<circle cx="1230.79" cy="829.15" r="10.60" fill="#fff"/>
<circle cx="1230.79" cy="877.98" r="10.60" fill="#fff"/>
<circle cx="1230.79" cy="926.81" r="10.60" fill="#fff"/>
<circle cx="1230.79" cy="975.64" r="10.60" fill="#fff"/>
<circle cx="1230.79" cy="1024.47" r="10.60" fill="#fff"/>
<circle cx="1230.79" cy="1073.30" r="10.60" fill="#fff"/>
<circle cx="1230.79" cy="1122.13" r="10.60" fill="#fff"/>
<circle cx="1230.79" cy="1170.96" r="10.60" fill="#fff"/>
<circle cx="1230.79" cy="1219.79" r="10.60" fill="#fff"/>
<circle cx="1230.79" cy="1268.62" r="10.60" fill="#fff"/>
<circle cx="1230.79" cy="1317.45" r="10.60" fill="#fff"/>
<circle cx="1230.79" cy="1366.28" r="10.60" fill="#fff"/>
<circle cx="1230.79" cy="1415.11" r="10.60" fill="#fff"/>
<circle cx="1279.62" cy="585.00" r="10.60" fill="#fff"/>
<circle cx="1279.62" cy="633.83" r="10.60" fill="#fff"/>
<circle cx="1279.62" cy="682.66" r="10.60" fill="#fff"/>
<circle cx="1279.62" cy="731.49" r="10.60" fill="#fff"/>
<circle cx="1279.62" cy="780.32" r="10.60" fill="#fff"/>
<circle cx="1279.62" cy="829.15" r="10.60" fill="#fff"/>
<circle cx="1279.62" cy="877.98" r="10.60" fill="#fff"/>
<circle cx="1279.62" cy="926.81" r="10.60" fill="#fff"/>
<circle cx="1279.62" cy="975.64" r="10.60" fill="#fff"/>
<circle cx="1279.62" cy="1024.47" r="10.60" fill="#fff"/>
<circle cx="1279.62" cy="1073.30" r="10.60" fill="#fff"/>
<circle cx="1279.62" cy="1122.13" r="10.60" fill="#fff"/>
<circle cx="1279.62" cy="1170.96" r="10.60" fill="#fff"/>
<circle cx="1279.62" cy="1219.79" r="10.60" fill="#fff"/>
<circle cx="1279.62" cy="1268.62" r="10.60" fill="#fff"/>
<circle cx="1279.62" cy="1317.45" r="10.60" fill="#fff"/>
<circle cx="1279.62" cy="1366.28" r="10.60" fill="#fff"/>
<circle cx="1279.62" cy="1415.11" r="10.60" fill="#fff"/>
<circle cx="1328.45" cy="585.00" r="10.60" fill="#fff"/>
<circle cx="1328.45" cy="633.83" r="10.60" fill="#fff"/>
<circle cx="1328.45" cy="682.66" r="10.60" fill="#fff"/>
<circle cx="1328.45" cy="731.49" r="10.60" fill="#fff"/>
<circle cx="1328.45" cy="780.32" r="10.60" fill="#fff"/>
<circle cx="1328.45" cy="829.15" r="10.60" fill="#fff"/>
<circle cx="1328.45" cy="877.98" r="10.60" fill="#fff"/>
<circle cx="1328.45" cy="926.81" r="10.60" fill="#fff"/>
<circle cx="1328.45" cy="975.64" r="10.60" fill="#fff"/>
<circle cx="1328.45" cy="1024.47" r="10.60" fill="#fff"/>
<circle cx="1328.45" cy="1073.30" r="10.60" fill="#fff"/>
<circle cx="1328.45" cy="1122.13" r="10.60" fill="#fff"/>
<circle cx="1328.45" cy="1170.96" r="10.60" fill="#fff"/>
<circle cx="1328.45" cy="1219.79" r="10.60" fill="#fff"/>
<circle cx="1328.45" cy="1268.62" r="10.60" fill="#fff"/>
<circle cx="1328.45" cy="1317.45" r="10.60" fill="#fff"/>
<circle cx="1328.45" cy="1366.28" r="10.60" fill="#fff"/>
<circle cx="1328.45" cy="1415.11" r="10.60" fill="#fff"/>
<circle cx="1377.28" cy="585.00" r="10.60" fill="#fff"/>
<circle cx="1377.28" cy="633.83" r="10.60" fill="#fff"/>
<circle cx="1377.28" cy="682.66" r="10.60" fill="#fff"/>
<circle cx="1377.28" cy="731.49" r="10.60" fill="#fff"/>
<circle cx="1377.28" cy="780.32" r="10.60" fill="#fff"/>
<circle cx="1377.28" cy="829.15" r="10.60" fill="#fff"/>
<circle cx="1377.28" cy="877.98" r="10.60" fill="#fff"/>
<circle cx="1377.28" cy="926.81" r="10.60" fill="#fff"/>
<circle cx="1377.28" cy="975.64" r="10.60" fill="#fff"/>
<circle cx="1377.28" cy="1024.47" r="10.60" fill="#fff"/>
<circle cx="1377.28" cy="1073.30" r="10.60" fill="#fff"/>
<circle cx="1377.28" cy="1122.13" r="10.60" fill="#fff"/>
<circle cx="1377.28" cy="1170.96" r="10.60" fill="#fff"/>
<circle cx="1377.28" cy="1219.79" r="10.60" fill="#fff"/>
<circle cx="1377.28" cy="1268.62" r="10.60" fill="#fff"/>
<circle cx="1377.28" cy="1317.45" r="10.60" fill="#fff"/>
<circle cx="1377.28" cy="1366.28" r="10.60" fill="#fff"/>
<circle cx="1377.28" cy="1415.11" r="10.60" fill="#fff"/>
<circle cx="1426.11" cy="585.00" r="10.60" fill="#fff"/>
<circle cx="1426.11" cy="633.83" r="10.60" fill="#fff"/>
<circle cx="1426.11" cy="682.66" r="10.60" fill="#fff"/>
<circle cx="1426.11" cy="731.49" r="10.60" fill="#fff"/>
<circle cx="1426.11" cy="780.32" r="10.60" fill="#fff"/>
<circle cx="1426.11" cy="829.15" r="10.60" fill="#fff"/>
<circle cx="1426.11" cy="877.98" r="10.60" fill="#fff"/>
<circle cx="1426.11" cy="926.81" r="10.60" fill="#fff"/>
<circle cx="1426.11" cy="975.64" r="10.60" fill="#fff"/>
<circle cx="1426.11" cy="1024.47" r="10.60" fill="#fff"/>
<circle cx="1426.11" cy="1073.30" r="10.60" fill="#fff"/>
<circle cx="1426.11" cy="1122.13" r="10.60" fill="#fff"/>
<circle cx="1426.11" cy="1170.96" r="10.60" fill="#fff"/>
<circle cx="1426.11" cy="1219.79" r="10.60" fill="#fff"/>
<circle cx="1426.11" cy="1268.62" r="10.60" fill="#fff"/>
<circle cx="1426.11" cy="1317.45" r="10.60" fill="#fff"/>
<circle cx="1426.11" cy="1366.28" r="10.60" fill="#fff"/>
<circle cx="1426.11" cy="1415.11" r="10.60" fill="#fff"/>
<circle cx="1474.94" cy="585.00" r="10.60" fill="#fff"/>
<circle cx="1474.94" cy="633.83" r="10.60" fill="#fff"/>
<circle cx="1474.94" cy="682.66" r="10.60" fill="#fff"/>
<circle cx="1474.94" cy="731.49" r="10.60" fill="#fff"/>
<circle cx="1474.94" cy="780.32" r="10.60" fill="#fff"/>
<circle cx="1474.94" cy="829.15" r="10.60" fill="#fff"/>
<circle cx="1474.94" cy="877.98" r="10.60" fill="#fff"/>
<circle cx="1474.94" cy="926.81" r="10.60" fill="#fff"/>
<circle cx="1474.94" cy="975.64" r="10.60" fill="#fff"/>
<circle cx="1474.94" cy="1024.47" r="10.60" fill="#fff"/>
<circle cx="1474.94" cy="1073.30" r="10.60" fill="#fff"/>
<circle cx="1474.94" cy="1122.13" r="10.60" fill="#fff"/>
<circle cx="1474.94" cy="1170.96" r="10.60" fill="#fff"/>
<circle cx="1474.94" cy="1219.79" r="10.60" fill="#fff"/>
<circle cx="1474.94" cy="1268.62" r="10.60" fill="#fff"/>
<circle cx="1474.94" cy="1317.45" r="10.60" fill="#fff"/>
<circle cx="1474.94" cy="1366.28" r="10.60" fill="#fff"/>
<circle cx="1474.94" cy="1415.11" r="10.60" fill="#fff"/>
<circle cx="1523.77" cy="585.00" r="10.60" fill="#fff"/>
<circle cx="1523.77" cy="633.83" r="10.60" fill="#fff"/>
<circle cx="1523.77" cy="682.66" r="10.60" fill="#fff"/>
<circle cx="1523.77" cy="731.49" r="10.60" fill="#fff"/>
<circle cx="1523.77" cy="780.32" r="10.60" fill="#fff"/>
<circle cx="1523.77" cy="829.15" r="10.60" fill="#fff"/>
<circle cx="1523.77" cy="877.98" r="10.60" fill="#fff"/>
<circle cx="1523.77" cy="926.81" r="10.60" fill="#fff"/>
<circle cx="1523.77" cy="975.64" r="10.60" fill="#fff"/>
<circle cx="1523.77" cy="1024.47" r="10.60" fill="#fff"/>
<circle cx="1523.77" cy="1073.30" r="10.60" fill="#fff"/>
<circle cx="1523.77" cy="1122.13" r="10.60" fill="#fff"/>
<circle cx="1523.77" cy="1170.96" r="10.60" fill="#fff"/>
<circle cx="1523.77" cy="1219.79" r="10.60" fill="#fff"/>
<circle cx="1523.77" cy="1268.62" r="10.60" fill="#fff"/>
<circle cx="1523.77" cy="1317.45" r="10.60" fill="#fff"/>
<circle cx="1523.77" cy="1366.28" r="10.60" fill="#fff"/>
<circle cx="1523.77" cy="1415.11" r="10.60" fill="#fff"/>
<circle cx="1607.30" cy="633.83" r="10.60" fill="#fff"/>
<circle cx="1607.30" cy="682.66" r="10.60" fill="#fff"/>
<circle cx="1607.30" cy="731.49" r="10.60" fill="#fff"/>
<circle cx="1607.30" cy="780.32" r="10.60" fill="#fff"/>
<circle cx="1607.30" cy="829.15" r="10.60" fill="#fff"/>
<circle cx="1607.30" cy="877.98" r="10.60" fill="#fff"/>
<circle cx="1607.30" cy="926.81" r="10.60" fill="#fff"/>
<circle cx="1607.30" cy="975.64" r="10.60" fill="#fff"/>
<circle cx="1607.30" cy="1024.47" r="10.60" fill="#fff"/>
<circle cx="1607.30" cy="1073.30" r="10.60" fill="#fff"/>
<circle cx="1607.30" cy="1122.13" r="10.60" fill="#fff"/>
<circle cx="1607.30" cy="1170.96" r="10.60" fill="#fff"/>
<circle cx="1607.30" cy="1219.79" r="10.60" fill="#fff"/>
<circle cx="1607.30" cy="1268.62" r="10.60" fill="#fff"/>
<circle cx="1607.30" cy="1317.45" r="10.60" fill="#fff"/>
<circle cx="1607.30" cy="1366.28" r="10.60" fill="#fff"/>
<circle cx="191.00" cy="558.00" r="10.70" fill="#fff"/>
<circle cx="532.60" cy="558.00" r="10.70" fill="#fff"/>
<circle cx="191.00" cy="606.83" r="10.70" fill="#fff"/>
<circle cx="532.60" cy="606.83" r="10.70" fill="#fff"/>
<circle cx="191.00" cy="655.66" r="10.70" fill="#fff"/>
<circle cx="532.60" cy="655.66" r="10.70" fill="#fff"/>
<circle cx="191.00" cy="704.49" r="10.70" fill="#fff"/>
<circle cx="532.60" cy="704.49" r="10.70" fill="#fff"/>
<circle cx="191.00" cy="753.32" r="10.70" fill="#fff"/>
<circle cx="532.60" cy="753.32" r="10.70" fill="#fff"/>
<circle cx="191.00" cy="802.15" r="10.70" fill="#fff"/>
<circle cx="532.60" cy="802.15" r="10.70" fill="#fff"/>
<circle cx="191.00" cy="850.98" r="10.70" fill="#fff"/>
<circle cx="532.60" cy="850.98" r="10.70" fill="#fff"/>
<circle cx="191.00" cy="899.81" r="10.70" fill="#fff"/>
<circle cx="532.60" cy="899.81" r="10.70" fill="#fff"/>
<circle cx="191.00" cy="948.64" r="10.70" fill="#fff"/>
<circle cx="532.60" cy="948.64" r="10.70" fill="#fff"/>
<circle cx="191.00" cy="997.47" r="10.70" fill="#fff"/>
<circle cx="532.60" cy="997.47" r="10.70" fill="#fff"/>
<circle cx="191.00" cy="1046.30" r="10.70" fill="#fff"/>
<circle cx="532.60" cy="1046.30" r="10.70" fill="#fff"/>
<circle cx="191.00" cy="1095.13" r="10.70" fill="#fff"/>
<circle cx="532.60" cy="1095.13" r="10.70" fill="#fff"/>
<circle cx="191.00" cy="1143.96" r="10.70" fill="#fff"/>
<circle cx="532.60" cy="1143.96" r="10.70" fill="#fff"/>
<circle cx="191.00" cy="1192.79" r="10.70" fill="#fff"/>
<circle cx="532.60" cy="1192.79" r="10.70" fill="#fff"/>
<circle cx="191.00" cy="1241.62" r="10.70" fill="#fff"/>
<circle cx="532.60" cy="1241.62" r="10.70" fill="#fff"/>
<circle cx="191.00" cy="1290.45" r="10.70" fill="#fff"/>
<circle cx="532.60" cy="1290.45" r="10.70" fill="#fff"/>
<circle cx="191.00" cy="1339.28" r="10.70" fill="#fff"/>
<circle cx="532.60" cy="1339.28" r="10.70" fill="#fff"/>
<circle cx="191.00" cy="1388.11" r="10.70" fill="#fff"/>
<circle cx="532.60" cy="1388.11" r="10.70" fill="#fff"/>
<circle cx="191.00" cy="1436.94" r="10.70" fill="#fff"/>
<circle cx="532.60" cy="1436.94" r="10.70" fill="#fff"/>
<circle cx="191.00" cy="1485.77" r="10.70" fill="#fff"/>
<circle cx="532.60" cy="1485.77" r="10.70" fill="#fff"/>
<circle cx="105.50" cy="1205.00" r="14.30" fill="#fff"/>
<circle cx="105.50" cy="1329.00" r="14.30" fill="#fff"/>
<circle cx="107.5" cy="519" r="26.4" fill="#fff"/>
<circle cx="1602.5" cy="519" r="26.4" fill="#fff"/>
<circle cx="107.5" cy="1478.5" r="26.4" fill="#fff"/>
<circle cx="1602.5" cy="1478.5" r="26.4" fill="#fff"/>
</g>
<g font-family='"Liberation Sans", sans-serif' font-weight="bold" font-size="38.5">
<rect x="592.6" y="549" width="5.2" height="10" fill="#fff"/>
<path d="M577.2,551.5 L613.2,551.5 L613.2,483 L577.2,491.5 Z" fill="#fff"/>
<g transform="translate(608.40,543) rotate(-90)" fill="#000" stroke="#000" stroke-width="0.7"><text x="0" y="0" transform="translate(0.00,0) scale(0.9,1)">V</text><text x="0" y="0" transform="translate(23.11,0) scale(0.9,1)">B</text></g>
<rect x="641.4300000000001" y="549" width="5.2" height="10" fill="#fff"/>
<path d="M626.0300000000001,551.5 L662.0300000000001,551.5 L662.0300000000001,483 L626.0300000000001,491.5 Z" fill="#fff"/>
<g transform="translate(657.23,543) rotate(-90)" fill="#000" stroke="#000" stroke-width="0.7"><text x="0" y="0" transform="translate(0.00,0) scale(0.9,1)">V</text><text x="0" y="0" transform="translate(23.11,0) scale(0.9,1)">S</text></g>
<rect x="690.26" y="547" width="5.2" height="12" fill="#fff"/>
<g transform="translate(706.06,545) rotate(-90)" fill="#fff" stroke="#fff" stroke-width="0.7"><text x="0" y="0" transform="translate(0.00,0) scale(0.9,1)">G</text></g>
<rect x="739.09" y="549" width="5.2" height="10" fill="#fff"/>
<path d="M723.69,551.5 L759.69,551.5 L759.69,483 L723.69,491.5 Z" fill="#fff"/>
<g transform="translate(754.89,543) rotate(-90)" fill="#000" stroke="#000" stroke-width="0.7"><text x="0" y="0" transform="translate(0.00,0) scale(0.9,1)">3</text><text x="0" y="0" transform="translate(19.27,0) scale(0.9,1)">E</text></g>
<rect x="787.92" y="549" width="5.2" height="10" fill="#fff"/>
<path d="M769.4,548.3 L808.1,548.3 L808.1,487.5 L769.4,499.5 Z" fill="#000" stroke="#fff" stroke-width="3.8" stroke-linejoin="miter"/>
<g transform="translate(803.72,543) rotate(-90)" fill="#fff" stroke="#fff" stroke-width="0.7"><text x="0" y="0" transform="translate(0.00,0) scale(0.9,1)">3</text><text x="0" y="0" transform="translate(19.27,0) scale(0.9,1)">v</text></g>
<rect x="836.75" y="549" width="5.2" height="10" fill="#fff"/>
<path d="M821.35,551.5 L857.35,551.5 L857.35,483 L821.35,491.5 Z" fill="#fff"/>
<g transform="translate(852.55,543) rotate(-90)" fill="#000" stroke="#000" stroke-width="0.7"><text x="0" y="0" transform="translate(0.00,0) scale(0.9,1)">V</text><text x="0" y="0" transform="translate(23.11,0) scale(0.9,1)">R</text></g>
<rect x="885.58" y="549" width="5.2" height="10" fill="#fff"/>
<path d="M870.1800000000001,551.5 L906.1800000000001,551.5 L906.1800000000001,483 L870.1800000000001,491.5 Z" fill="#fff"/>
<g transform="translate(901.38,543) rotate(-90)" fill="#000" stroke="#000" stroke-width="0.7"><text x="0" y="0" transform="translate(0.00,0) scale(0.96,1)">2</text><text x="0" y="0" transform="translate(20.56,0) scale(0.96,1)">8</text></g>
<rect x="934.41" y="549" width="5.2" height="10" fill="#fff"/>
<path d="M919.01,551.5 L955.01,551.5 L955.01,483 L919.01,491.5 Z" fill="#fff"/>
<g transform="translate(950.21,543) rotate(-90)" fill="#000" stroke="#000" stroke-width="0.7"><text x="0" y="0" transform="translate(0.00,0) scale(0.9,1)">A</text><text x="0" y="0" transform="translate(25.02,0) scale(0.9,1)">G</text></g>
<rect x="983.24" y="549" width="5.2" height="10" fill="#fff"/>
<path d="M967.84,551.5 L1003.84,551.5 L1003.84,483 L967.84,491.5 Z" fill="#fff"/>
<g transform="translate(999.04,543) rotate(-90)" fill="#000" stroke="#000" stroke-width="0.7"><text x="0" y="0" transform="translate(0.00,0) scale(0.96,1)">2</text><text x="0" y="0" transform="translate(20.56,0) scale(0.96,1)">7</text></g>
<rect x="1032.0700000000002" y="549" width="5.2" height="10" fill="#fff"/>
<path d="M1016.6700000000001,551.5 L1052.67,551.5 L1052.67,483 L1016.6700000000001,491.5 Z" fill="#fff"/>
<g transform="translate(1047.87,543) rotate(-90)" fill="#000" stroke="#000" stroke-width="0.7"><text x="0" y="0" transform="translate(0.00,0) scale(0.96,1)">2</text><text x="0" y="0" transform="translate(20.56,0) scale(0.96,1)">6</text></g>
<rect x="1080.9" y="549" width="5.2" height="10" fill="#fff"/>
<path d="M1065.5,551.5 L1101.5,551.5 L1101.5,483 L1065.5,491.5 Z" fill="#fff"/>
<g transform="translate(1096.70,543) rotate(-90)" fill="#000" stroke="#000" stroke-width="0.7"><text x="0" y="0" transform="translate(0.00,0) scale(0.9,1)">R</text><text x="0" y="0" transform="translate(25.02,0) scale(0.9,1)">U</text></g>
<rect x="1129.7300000000002" y="549" width="5.2" height="10" fill="#fff"/>
<path d="M1114.3300000000002,551.5 L1150.3300000000002,551.5 L1150.3300000000002,483 L1114.3300000000002,491.5 Z" fill="#fff"/>
<g transform="translate(1145.53,543) rotate(-90)" fill="#000" stroke="#000" stroke-width="0.7"><text x="0" y="0" transform="translate(0.00,0) scale(0.96,1)">2</text><text x="0" y="0" transform="translate(20.56,0) scale(0.96,1)">2</text></g>
<rect x="1178.5600000000002" y="547" width="5.2" height="12" fill="#fff"/>
<g transform="translate(1194.36,545) rotate(-90)" fill="#fff" stroke="#fff" stroke-width="0.7"><text x="0" y="0" transform="translate(0.00,0) scale(0.9,1)">G</text></g>
<rect x="1227.39" y="549" width="5.2" height="10" fill="#fff"/>
<path d="M1211.99,551.5 L1247.99,551.5 L1247.99,483 L1211.99,491.5 Z" fill="#fff"/>
<g transform="translate(1243.19,543) rotate(-90)" fill="#000" stroke="#000" stroke-width="0.7"><text x="0" y="0" transform="translate(0.00,0) scale(0.96,1)">2</text><path d="M25.76,0 L30.76,0 L30.76,-26.6 L26.96,-26.6 Q25.96,-22.5 21.36,-21.8 L21.36,-17.6 L25.76,-17.6 Z"/></g>
<rect x="1276.22" y="549" width="5.2" height="10" fill="#fff"/>
<path d="M1260.82,551.5 L1296.82,551.5 L1296.82,483 L1260.82,491.5 Z" fill="#fff"/>
<g transform="translate(1292.02,543) rotate(-90)" fill="#000" stroke="#000" stroke-width="0.7"><text x="0" y="0" transform="translate(0.00,0) scale(0.96,1)">2</text><text x="0" y="0" transform="translate(20.56,0) scale(0.96,1)">0</text></g>
<rect x="1325.05" y="549" width="5.2" height="10" fill="#fff"/>
<path d="M1309.6499999999999,551.5 L1345.6499999999999,551.5 L1345.6499999999999,483 L1309.6499999999999,491.5 Z" fill="#fff"/>
<g transform="translate(1340.85,543) rotate(-90)" fill="#000" stroke="#000" stroke-width="0.7"><path d="M5.20,0 L10.20,0 L10.20,-26.6 L6.40,-26.6 Q5.40,-22.5 0.80,-21.8 L0.80,-17.6 L5.20,-17.6 Z"/><text x="0" y="0" transform="translate(13.00,0) scale(0.96,1)">9</text></g>
<rect x="1373.88" y="549" width="5.2" height="10" fill="#fff"/>
<path d="M1358.48,551.5 L1394.48,551.5 L1394.48,483 L1358.48,491.5 Z" fill="#fff"/>
<g transform="translate(1389.68,543) rotate(-90)" fill="#000" stroke="#000" stroke-width="0.7"><path d="M5.20,0 L10.20,0 L10.20,-26.6 L6.40,-26.6 Q5.40,-22.5 0.80,-21.8 L0.80,-17.6 L5.20,-17.6 Z"/><text x="0" y="0" transform="translate(13.00,0) scale(0.96,1)">8</text></g>
<rect x="1422.7100000000003" y="547" width="5.2" height="12" fill="#fff"/>
<g transform="translate(1438.51,545) rotate(-90)" fill="#fff" stroke="#fff" stroke-width="0.7"><text x="0" y="0" transform="translate(0.00,0) scale(0.9,1)">G</text></g>
<rect x="1471.5400000000002" y="549" width="5.2" height="10" fill="#fff"/>
<path d="M1456.14,551.5 L1492.14,551.5 L1492.14,483 L1456.14,491.5 Z" fill="#fff"/>
<g transform="translate(1487.34,543) rotate(-90)" fill="#000" stroke="#000" stroke-width="0.7"><path d="M5.20,0 L10.20,0 L10.20,-26.6 L6.40,-26.6 Q5.40,-22.5 0.80,-21.8 L0.80,-17.6 L5.20,-17.6 Z"/><text x="0" y="0" transform="translate(13.00,0) scale(0.96,1)">7</text></g>
<rect x="1520.3700000000001" y="549" width="5.2" height="10" fill="#fff"/>
<path d="M1504.97,551.5 L1540.97,551.5 L1540.97,483 L1504.97,491.5 Z" fill="#fff"/>
<g transform="translate(1536.17,543) rotate(-90)" fill="#000" stroke="#000" stroke-width="0.7"><path d="M5.20,0 L10.20,0 L10.20,-26.6 L6.40,-26.6 Q5.40,-22.5 0.80,-21.8 L0.80,-17.6 L5.20,-17.6 Z"/><text x="0" y="0" transform="translate(13.00,0) scale(0.96,1)">6</text></g>
<rect x="592.6" y="1438" width="5.2" height="14" fill="#fff"/>
<path d="M577.2,1449.5 L613.2,1449.5 L613.2,1518 L577.2,1509 Z" fill="#fff"/>
<g transform="translate(608.40,1457) rotate(-90)" fill="#000" stroke="#000" stroke-width="0.7"><text x="0" y="0" transform="translate(-20.56,0) scale(0.96,1)">0</text></g>
<rect x="641.4300000000001" y="1438" width="5.2" height="14" fill="#fff"/>
<path d="M626.0300000000001,1449.5 L662.0300000000001,1449.5 L662.0300000000001,1518 L626.0300000000001,1509 Z" fill="#fff"/>
<g transform="translate(657.23,1457) rotate(-90)" fill="#000" stroke="#000" stroke-width="0.7"><path d="M-7.80,0 L-2.80,0 L-2.80,-26.6 L-6.60,-26.6 Q-7.60,-22.5 -12.20,-21.8 L-12.20,-17.6 L-7.80,-17.6 Z"/></g>
<rect x="690.26" y="1438" width="5.2" height="11" fill="#fff"/>
<g transform="translate(706.06,1457) rotate(-90)" fill="#fff" stroke="#fff" stroke-width="0.7"><text x="0" y="0" transform="translate(-26.95,0) scale(0.9,1)">G</text></g>
<rect x="739.09" y="1438" width="5.2" height="14" fill="#fff"/>
<path d="M723.69,1449.5 L759.69,1449.5 L759.69,1518 L723.69,1509 Z" fill="#fff"/>
<g transform="translate(754.89,1457) rotate(-90)" fill="#000" stroke="#000" stroke-width="0.7"><text x="0" y="0" transform="translate(-20.56,0) scale(0.96,1)">2</text></g>
<rect x="787.92" y="1438" width="5.2" height="14" fill="#fff"/>
<path d="M772.52,1449.5 L808.52,1449.5 L808.52,1518 L772.52,1509 Z" fill="#fff"/>
<g transform="translate(803.72,1457) rotate(-90)" fill="#000" stroke="#000" stroke-width="0.7"><text x="0" y="0" transform="translate(-20.56,0) scale(0.96,1)">3</text></g>
<rect x="836.75" y="1438" width="5.2" height="14" fill="#fff"/>
<path d="M821.35,1449.5 L857.35,1449.5 L857.35,1518 L821.35,1509 Z" fill="#fff"/>
<g transform="translate(852.55,1457) rotate(-90)" fill="#000" stroke="#000" stroke-width="0.7"><text x="0" y="0" transform="translate(-20.56,0) scale(0.96,1)">4</text></g>
<rect x="885.58" y="1438" width="5.2" height="14" fill="#fff"/>
<path d="M870.1800000000001,1449.5 L906.1800000000001,1449.5 L906.1800000000001,1518 L870.1800000000001,1509 Z" fill="#fff"/>
<g transform="translate(901.38,1457) rotate(-90)" fill="#000" stroke="#000" stroke-width="0.7"><text x="0" y="0" transform="translate(-20.56,0) scale(0.96,1)">5</text></g>
<rect x="934.41" y="1438" width="5.2" height="11" fill="#fff"/>
<g transform="translate(950.21,1457) rotate(-90)" fill="#fff" stroke="#fff" stroke-width="0.7"><text x="0" y="0" transform="translate(-26.95,0) scale(0.9,1)">G</text></g>
<rect x="983.24" y="1438" width="5.2" height="14" fill="#fff"/>
<path d="M967.84,1449.5 L1003.84,1449.5 L1003.84,1518 L967.84,1509 Z" fill="#fff"/>
<g transform="translate(999.04,1457) rotate(-90)" fill="#000" stroke="#000" stroke-width="0.7"><text x="0" y="0" transform="translate(-20.56,0) scale(0.96,1)">6</text></g>
<rect x="1032.0700000000002" y="1438" width="5.2" height="14" fill="#fff"/>
<path d="M1016.6700000000001,1449.5 L1052.67,1449.5 L1052.67,1518 L1016.6700000000001,1509 Z" fill="#fff"/>
<g transform="translate(1047.87,1457) rotate(-90)" fill="#000" stroke="#000" stroke-width="0.7"><text x="0" y="0" transform="translate(-20.56,0) scale(0.96,1)">7</text></g>
<rect x="1080.9" y="1438" width="5.2" height="14" fill="#fff"/>
<path d="M1065.5,1449.5 L1101.5,1449.5 L1101.5,1518 L1065.5,1509 Z" fill="#fff"/>
<g transform="translate(1096.70,1457) rotate(-90)" fill="#000" stroke="#000" stroke-width="0.7"><text x="0" y="0" transform="translate(-20.56,0) scale(0.96,1)">8</text></g>
<rect x="1129.7300000000002" y="1438" width="5.2" height="14" fill="#fff"/>
<path d="M1114.3300000000002,1449.5 L1150.3300000000002,1449.5 L1150.3300000000002,1518 L1114.3300000000002,1509 Z" fill="#fff"/>
<g transform="translate(1145.53,1457) rotate(-90)" fill="#000" stroke="#000" stroke-width="0.7"><text x="0" y="0" transform="translate(-20.56,0) scale(0.96,1)">9</text></g>
<rect x="1178.5600000000002" y="1438" width="5.2" height="11" fill="#fff"/>
<g transform="translate(1194.36,1457) rotate(-90)" fill="#fff" stroke="#fff" stroke-width="0.7"><text x="0" y="0" transform="translate(-26.95,0) scale(0.9,1)">G</text></g>
<rect x="1227.39" y="1438" width="5.2" height="14" fill="#fff"/>
<path d="M1211.99,1449.5 L1247.99,1449.5 L1247.99,1518 L1211.99,1509 Z" fill="#fff"/>
<g transform="translate(1243.19,1457) rotate(-90)" fill="#000" stroke="#000" stroke-width="0.7"><path d="M-28.36,0 L-23.36,0 L-23.36,-26.6 L-27.16,-26.6 Q-28.16,-22.5 -32.76,-21.8 L-32.76,-17.6 L-28.36,-17.6 Z"/><text x="0" y="0" transform="translate(-20.56,0) scale(0.96,1)">0</text></g>
<rect x="1276.22" y="1438" width="5.2" height="14" fill="#fff"/>
<path d="M1260.82,1449.5 L1296.82,1449.5 L1296.82,1518 L1260.82,1509 Z" fill="#fff"/>
<g transform="translate(1292.02,1457) rotate(-90)" fill="#000" stroke="#000" stroke-width="0.7"><path d="M-20.80,0 L-15.80,0 L-15.80,-26.6 L-19.60,-26.6 Q-20.60,-22.5 -25.20,-21.8 L-25.20,-17.6 L-20.80,-17.6 Z"/><path d="M-7.80,0 L-2.80,0 L-2.80,-26.6 L-6.60,-26.6 Q-7.60,-22.5 -12.20,-21.8 L-12.20,-17.6 L-7.80,-17.6 Z"/></g>
<rect x="1325.05" y="1438" width="5.2" height="14" fill="#fff"/>
<path d="M1309.6499999999999,1449.5 L1345.6499999999999,1449.5 L1345.6499999999999,1518 L1309.6499999999999,1509 Z" fill="#fff"/>
<g transform="translate(1340.85,1457) rotate(-90)" fill="#000" stroke="#000" stroke-width="0.7"><path d="M-28.36,0 L-23.36,0 L-23.36,-26.6 L-27.16,-26.6 Q-28.16,-22.5 -32.76,-21.8 L-32.76,-17.6 L-28.36,-17.6 Z"/><text x="0" y="0" transform="translate(-20.56,0) scale(0.96,1)">2</text></g>
<rect x="1373.88" y="1438" width="5.2" height="14" fill="#fff"/>
<path d="M1358.48,1449.5 L1394.48,1449.5 L1394.48,1518 L1358.48,1509 Z" fill="#fff"/>
<g transform="translate(1389.68,1457) rotate(-90)" fill="#000" stroke="#000" stroke-width="0.7"><path d="M-28.36,0 L-23.36,0 L-23.36,-26.6 L-27.16,-26.6 Q-28.16,-22.5 -32.76,-21.8 L-32.76,-17.6 L-28.36,-17.6 Z"/><text x="0" y="0" transform="translate(-20.56,0) scale(0.96,1)">3</text></g>
<rect x="1422.7100000000003" y="1438" width="5.2" height="11" fill="#fff"/>
<g transform="translate(1438.51,1457) rotate(-90)" fill="#fff" stroke="#fff" stroke-width="0.7"><text x="0" y="0" transform="translate(-26.95,0) scale(0.9,1)">G</text></g>
<rect x="1471.5400000000002" y="1438" width="5.2" height="14" fill="#fff"/>
<path d="M1456.14,1449.5 L1492.14,1449.5 L1492.14,1518 L1456.14,1509 Z" fill="#fff"/>
<g transform="translate(1487.34,1457) rotate(-90)" fill="#000" stroke="#000" stroke-width="0.7"><path d="M-28.36,0 L-23.36,0 L-23.36,-26.6 L-27.16,-26.6 Q-28.16,-22.5 -32.76,-21.8 L-32.76,-17.6 L-28.36,-17.6 Z"/><text x="0" y="0" transform="translate(-20.56,0) scale(0.96,1)">4</text></g>
<rect x="1520.3700000000001" y="1438" width="5.2" height="14" fill="#fff"/>
<path d="M1504.97,1449.5 L1540.97,1449.5 L1540.97,1518 L1504.97,1509 Z" fill="#fff"/>
<g transform="translate(1536.17,1457) rotate(-90)" fill="#000" stroke="#000" stroke-width="0.7"><path d="M-28.36,0 L-23.36,0 L-23.36,-26.6 L-27.16,-26.6 Q-28.16,-22.5 -32.76,-21.8 L-32.76,-17.6 L-28.36,-17.6 Z"/><text x="0" y="0" transform="translate(-20.56,0) scale(0.96,1)">5</text></g>
</g>
<text transform="translate(121,1086) rotate(-90)" font-family='"Liberation Sans", sans-serif' font-weight="bold" font-size="37" textLength="173" lengthAdjust="spacingAndGlyphs" fill="#DFAC1E" stroke="#DFAC1E" stroke-width="1">ProtoMate</text>
<text transform="translate(115.3,1291) rotate(-90)" font-family='"Liberation Sans", sans-serif' font-weight="bold" font-size="26" textLength="46.6" lengthAdjust="spacingAndGlyphs" fill="#fff">RST</text>
<svg x="50" y="580" width="110" height="110" viewBox="0 0 1932 1932">
<g fill="#DFAC1E">
<path d="M360,880 L690,600 M1270,600 L1610,880" stroke="#DFAC1E" stroke-width="110" stroke-linecap="round" fill="none"/>
<path d="M455,900 L455,1330 Q455,1470 600,1470 L1350,1470 Q1495,1470 1495,1330 L1495,900" stroke="#DFAC1E" stroke-width="110" fill="none"/>
<path d="M680,1500 L1270,1500 L1230,1650 L730,1650 Z"/>
<path d="M670,550 L865,595 L885,430 L1000,560 L1165,285 L1080,520 L1365,515 L1075,800 L890,825 Z" stroke="#000" stroke-width="40" paint-order="stroke" stroke-linejoin="miter"/>
<circle cx="710" cy="875" r="125" stroke="#000" stroke-width="30" paint-order="stroke"/>
<circle cx="1240" cy="880" r="120" stroke="#000" stroke-width="30" paint-order="stroke"/>
<circle cx="975" cy="995" r="120" stroke="#000" stroke-width="30" paint-order="stroke"/>
<circle cx="735" cy="1140" r="105" stroke="#000" stroke-width="30" paint-order="stroke"/>
<circle cx="1190" cy="1175" r="110" stroke="#000" stroke-width="30" paint-order="stroke"/>
<circle cx="950" cy="1290" r="105" stroke="#000" stroke-width="30" paint-order="stroke"/>
</g></svg>
</svg></body></html>
